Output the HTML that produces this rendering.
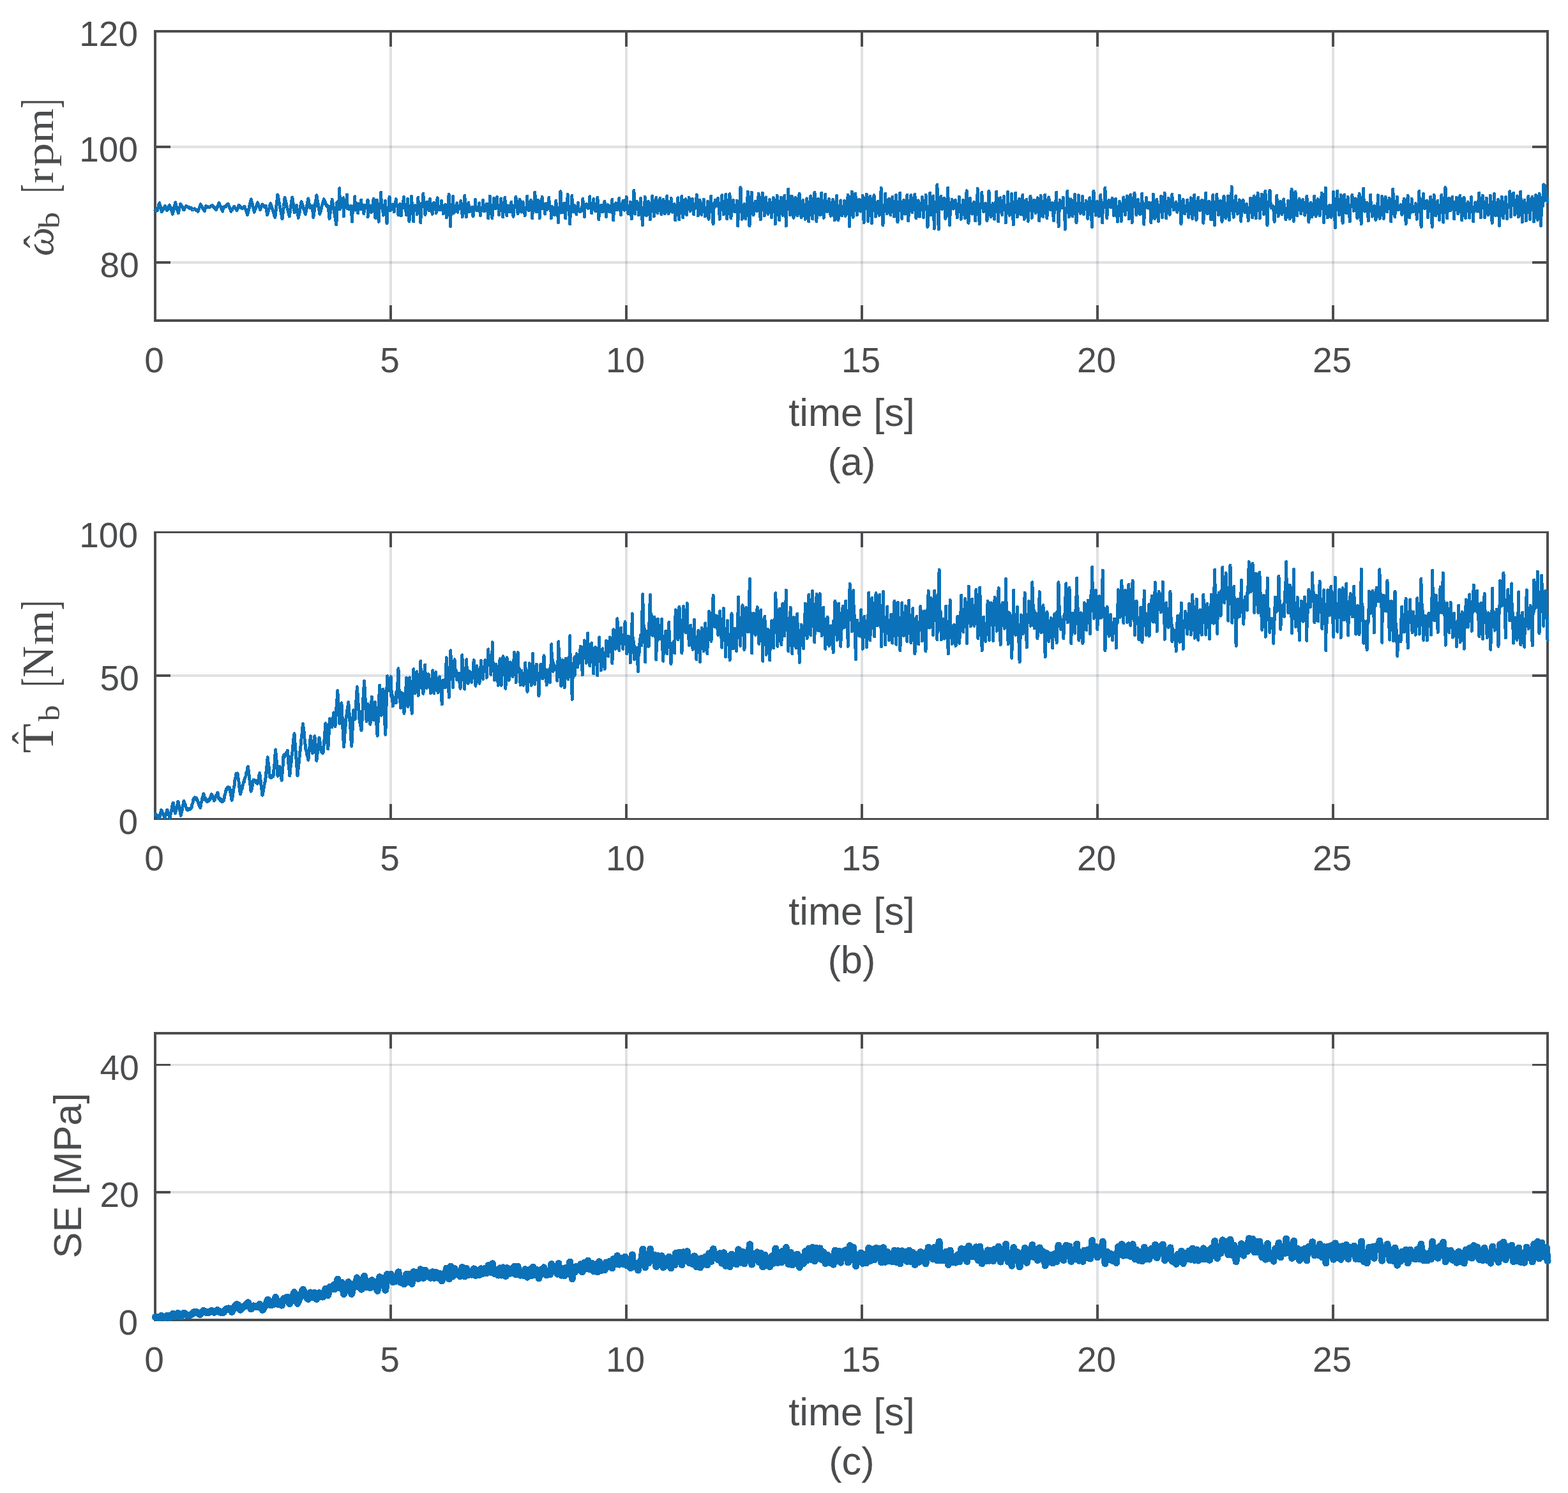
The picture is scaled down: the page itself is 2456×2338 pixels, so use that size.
<!DOCTYPE html>
<html lang="en"><head><meta charset="utf-8"><title>Figure</title>
<style>
html,body{margin:0;padding:0;background:#fff}
body{width:2456px;height:2338px;overflow:hidden}
svg{display:block}
text{font-family:"Liberation Sans",sans-serif;fill:#4b4c4e}
.tk{font-size:55px}
.lb{font-size:61.3px}
.tex text{font-family:"Liberation Serif",serif}
</style></head>
<body>
<svg xmlns="http://www.w3.org/2000/svg" width="2456" height="2338" viewBox="0 0 2456 2338">
<rect width="2456" height="2338" fill="#fff"/>
<g>
<rect x="610" y="49" width="4" height="453" fill="#4b515c" fill-opacity="0.172"/>
<rect x="979" y="49" width="4" height="453" fill="#4b515c" fill-opacity="0.172"/>
<rect x="1348" y="49" width="4" height="453" fill="#4b515c" fill-opacity="0.172"/>
<rect x="1717" y="49" width="4" height="453" fill="#4b515c" fill-opacity="0.172"/>
<rect x="2086" y="49" width="4" height="453" fill="#4b515c" fill-opacity="0.172"/>
<rect x="243" y="228" width="2181" height="4" fill="#4b515c" fill-opacity="0.172"/>
<rect x="243" y="409" width="2181" height="4" fill="#4b515c" fill-opacity="0.172"/>
<text class="tk" x="241.5" y="582.5" text-anchor="middle">0</text>
<rect x="610" y="478" width="4" height="23" fill="#4b4c4e"/>
<rect x="610" y="50" width="4" height="23" fill="#4b4c4e"/>
<text class="tk" x="610.5" y="582.5" text-anchor="middle">5</text>
<rect x="979" y="478" width="4" height="23" fill="#4b4c4e"/>
<rect x="979" y="50" width="4" height="23" fill="#4b4c4e"/>
<text class="tk" x="979.5" y="582.5" text-anchor="middle">10</text>
<rect x="1348" y="478" width="4" height="23" fill="#4b4c4e"/>
<rect x="1348" y="50" width="4" height="23" fill="#4b4c4e"/>
<text class="tk" x="1348.5" y="582.5" text-anchor="middle">15</text>
<rect x="1717" y="478" width="4" height="23" fill="#4b4c4e"/>
<rect x="1717" y="50" width="4" height="23" fill="#4b4c4e"/>
<text class="tk" x="1717.5" y="582.5" text-anchor="middle">20</text>
<rect x="2086" y="478" width="4" height="23" fill="#4b4c4e"/>
<rect x="2086" y="50" width="4" height="23" fill="#4b4c4e"/>
<text class="tk" x="2086.5" y="582.5" text-anchor="middle">25</text>
<text class="tk" x="216.0" y="72.0" text-anchor="end">120</text>
<rect x="244" y="228" width="23" height="4" fill="#4b4c4e"/>
<rect x="2400" y="228" width="23" height="4" fill="#4b4c4e"/>
<text class="tk" x="216.0" y="253.0" text-anchor="end">100</text>
<rect x="244" y="409" width="23" height="4" fill="#4b4c4e"/>
<rect x="2400" y="409" width="23" height="4" fill="#4b4c4e"/>
<text class="tk" x="217.8" y="434.0" text-anchor="end">80</text>
<rect x="241" y="47" width="2185" height="4" fill="#4b4c4e"/>
<rect x="241" y="500" width="2185" height="4" fill="#4b4c4e"/>
<rect x="241" y="47" width="4" height="457" fill="#4b4c4e"/>
<rect x="2422" y="47" width="4" height="457" fill="#4b4c4e"/>
<polyline fill="none" stroke="#0b72b9" stroke-width="5.0" stroke-linejoin="round" stroke-linecap="round" shape-rendering="crispEdges" points="243.0,329.5 243.8,330.0 244.6,329.1 245.4,330.0 246.2,329.7 247.1,326.3 247.9,324.3 248.8,320.3 249.6,317.8 250.4,321.0 251.1,323.1 251.8,326.7 252.6,328.7 253.3,331.7 254.1,330.8 255.0,328.4 255.8,327.7 256.7,325.2 257.5,324.7 258.4,322.5 259.1,324.0 259.9,326.4 260.7,327.4 261.4,329.7 262.2,328.6 263.0,325.9 263.8,325.0 264.7,322.3 265.5,321.1 266.3,323.8 267.2,325.4 268.0,328.6 268.9,330.1 269.7,333.1 270.5,335.2 271.4,330.9 272.2,328.2 273.0,323.6 273.8,321.3 274.6,317.0 275.4,319.4 276.2,323.2 276.9,325.2 277.7,328.7 278.5,330.6 279.3,333.8 280.1,330.5 281.0,326.0 281.9,323.3 282.7,319.5 283.6,320.4 284.4,322.8 285.3,323.5 286.1,326.0 286.9,326.7 287.8,328.7 288.6,328.1 289.4,325.6 290.2,325.2 291.0,323.4 291.9,322.5 292.7,323.6 293.5,323.2 294.3,324.6 295.1,324.4 295.9,325.6 296.7,326.2 297.5,324.9 298.3,325.9 299.2,325.3 300.0,325.6 300.5,327.7 301.0,328.7 301.7,328.0 302.5,328.5 303.3,327.7 304.0,328.0 304.8,326.9 305.6,327.1 306.3,328.4 307.1,328.1 307.8,329.8 308.6,329.3 309.4,330.9 310.1,331.1 310.9,328.5 311.7,327.0 312.6,324.0 313.4,322.7 314.2,319.9 315.0,321.0 315.9,323.3 316.8,324.1 317.7,326.7 318.5,327.1 319.4,329.4 320.3,330.7 320.9,327.6 321.6,325.7 322.3,322.5 323.1,322.7 324.0,324.0 324.8,323.1 325.7,324.4 326.5,324.1 327.4,325.0 328.2,324.8 329.1,323.6 329.9,323.6 330.8,322.5 331.6,322.6 332.4,321.5 333.3,322.1 334.2,324.1 335.1,324.0 335.9,326.1 336.8,326.3 337.7,327.9 338.5,328.7 339.4,326.0 340.3,324.9 341.2,321.6 342.1,320.3 343.0,317.8 343.8,319.5 344.6,322.3 345.4,323.0 346.2,325.7 347.1,326.8 347.9,329.4 348.7,331.1 349.2,327.3 349.7,324.5 350.4,324.9 351.2,323.7 351.9,324.4 352.7,323.3 353.4,323.8 354.2,323.5 354.9,321.2 355.7,321.6 356.5,319.7 357.2,319.1 358.0,321.8 358.8,322.6 359.5,325.6 360.3,326.6 361.1,329.4 361.9,331.1 362.7,329.2 363.6,329.0 364.4,326.8 365.3,326.2 366.1,324.2 366.9,323.1 367.8,324.9 368.6,325.1 369.4,327.5 370.2,328.0 371.0,329.7 371.8,328.2 372.5,325.4 373.3,323.8 374.0,321.5 374.9,321.8 375.7,323.5 376.6,323.6 377.4,325.5 378.3,325.3 379.1,326.6 379.9,326.3 380.7,325.1 381.6,325.2 382.4,323.5 383.2,323.5 384.1,326.6 385.0,328.1 385.9,331.7 386.7,333.5 387.6,336.4 388.5,333.4 389.3,329.2 390.1,326.3 390.9,321.8 391.7,319.2 392.5,314.9 393.3,312.0 394.2,315.9 395.0,318.5 395.9,322.8 396.7,325.2 397.6,329.6 398.4,332.3 399.2,329.4 400.1,327.7 400.9,324.0 401.8,322.8 402.6,319.1 403.5,317.0 404.3,319.7 405.1,321.2 405.9,324.5 406.7,326.1 407.5,328.7 408.3,326.9 409.1,323.6 409.8,322.6 410.6,319.9 411.3,320.6 412.1,322.5 412.9,322.5 413.6,324.1 414.4,324.4 415.1,322.8 415.9,323.1 416.7,322.5 417.3,327.0 418.0,332.4 418.7,336.8 419.5,333.0 420.4,331.1 421.2,327.2 422.1,325.4 422.9,321.2 423.8,318.5 424.7,321.8 425.5,323.1 426.4,327.5 427.3,329.1 428.2,332.7 429.1,334.5 430.0,338.4 430.9,340.4 431.7,332.9 432.5,326.6 433.3,318.7 434.1,312.3 434.9,304.9 435.8,308.9 436.7,314.8 437.6,318.6 438.5,324.3 439.4,328.1 440.3,333.8 441.1,337.6 442.0,342.9 442.8,336.9 443.7,329.1 444.5,323.5 445.3,315.5 446.1,309.3 447.0,313.4 447.9,316.3 448.8,321.3 449.6,323.8 450.5,328.2 451.4,330.5 452.3,335.5 453.2,338.8 454.0,333.4 454.7,329.3 455.5,323.0 456.3,319.3 457.1,312.9 457.9,308.9 458.7,315.3 459.6,320.1 460.4,327.7 461.3,332.7 462.1,329.2 462.8,327.8 463.6,323.7 464.4,321.5 465.1,326.9 465.9,330.3 466.6,336.9 467.4,341.3 468.2,336.2 469.0,333.6 469.7,327.5 470.5,324.8 471.3,319.6 472.1,315.8 472.9,319.3 473.7,319.9 474.5,323.9 475.3,324.7 476.1,328.9 476.9,329.3 477.7,333.7 478.6,335.2 479.4,330.0 480.2,326.5 481.0,320.3 481.8,316.8 482.6,310.9 483.4,314.3 484.2,319.3 485.1,321.1 485.9,325.6 486.7,325.2 487.5,323.1 488.3,324.1 489.1,322.5 489.9,331.0 490.7,340.4 491.6,335.8 492.4,328.0 493.3,323.8 494.1,316.1 495.0,312.0 495.8,305.7 496.7,310.1 497.5,316.7 498.3,319.9 499.2,326.4 500.0,329.7 500.9,335.2 501.7,333.4 502.5,328.6 503.3,327.3 504.1,322.5 504.9,321.3 505.8,316.7 506.6,315.7 507.4,311.8 508.2,313.6 509.1,317.6 509.9,317.5 510.7,321.0 511.6,322.2 512.4,321.7 513.2,323.7 514.1,323.5 514.8,328.7 515.4,337.1 516.1,342.5 516.9,335.7 517.7,331.6 518.5,323.8 519.4,319.5 520.2,312.4 526.9,352.0 527.7,316.7 528.5,326.0 529.8,314.8 530.8,327.5 531.7,294.7 532.6,327.9 533.6,320.3 534.4,324.8 535.3,315.5 536.5,320.4 537.7,309.7 538.4,338.8 538.9,313.4 540.0,322.0 541.1,318.1 541.9,324.2 543.5,304.9 544.3,326.8 545.4,324.3 546.4,327.4 547.5,323.5 548.2,326.1 549.4,322.7 550.2,325.0 551.6,347.3 552.4,324.4 553.5,327.4 554.7,326.1 555.7,307.7 556.6,329.1 557.6,322.1 558.8,324.2 559.7,319.0 560.8,333.8 561.5,318.9 562.4,323.1 563.6,321.1 564.7,327.6 565.8,313.0 566.4,327.1 567.3,323.5 568.3,324.7 569.9,334.8 570.7,321.0 571.9,324.5 573.0,323.2 574.2,325.3 575.0,326.4 576.0,313.4 576.0,339.8 576.7,325.6 577.5,326.4 578.3,323.8 579.2,328.8 580.4,321.9 581.6,332.6 582.8,324.7 583.8,330.9 585.1,311.4 586.0,326.6 586.8,328.5 587.7,341.3 588.4,328.5 589.3,325.6 590.2,313.0 590.8,325.8 591.8,328.5 593.2,347.3 593.7,326.8 594.6,326.1 595.7,325.1 596.7,301.2 597.4,323.1 598.3,323.1 599.2,321.6 600.3,337.2 600.9,326.3 601.8,324.0 602.7,329.1 603.4,314.4 604.1,327.9 604.9,329.3 606.0,350.0 606.8,328.0 607.9,330.1 608.8,326.4 610.1,308.3 610.7,329.8 611.5,324.5 612.4,328.7 613.4,321.4 614.5,325.5 615.4,320.0 616.2,323.0 617.3,331.7 617.8,322.4 619.0,320.7 620.3,311.8 620.9,321.8 621.9,323.0 623.1,323.0 623.9,336.8 624.7,320.9 625.7,323.5 626.5,319.4 627.4,322.7 628.4,337.8 628.9,321.2 630.0,324.4 631.1,322.9 632.5,308.3 633.2,326.1 634.0,324.5 635.1,323.3 636.5,336.8 637.1,327.4 638.6,311.4 639.3,325.7 640.2,329.0 641.0,346.9 641.7,329.5 642.8,324.9 643.8,330.3 644.6,307.3 645.4,324.8 646.2,325.7 647.7,346.9 648.2,323.5 649.3,324.1 650.3,321.8 651.5,323.1 652.6,323.6 653.2,335.8 653.8,324.5 654.8,309.3 655.4,322.9 656.6,322.7 657.4,324.5 658.9,348.6 659.4,318.9 660.3,325.2 661.2,322.9 661.9,323.7 662.9,303.2 663.5,322.3 664.6,321.5 666.0,336.4 666.6,317.7 667.8,323.2 669.0,316.3 670.0,327.7 671.1,319.8 672.2,329.8 673.5,311.4 674.3,326.8 675.5,321.9 676.5,323.3 677.1,335.2 677.9,318.8 679.1,322.3 679.8,317.4 680.7,321.3 681.9,319.0 682.6,320.1 683.2,333.8 683.9,320.5 685.2,309.7 686.1,325.9 686.9,322.5 687.9,328.7 688.7,324.0 689.7,328.8 690.5,325.4 691.7,314.4 692.3,325.8 693.2,323.9 694.4,334.8 695.2,322.2 696.4,323.1 697.5,320.3 698.5,323.5 699.4,340.9 700.0,324.2 700.8,323.6 701.8,327.1 703.1,304.3 703.7,326.9 704.7,328.6 705.5,354.7 706.3,329.1 707.4,331.1 708.4,329.7 709.6,307.3 710.5,334.1 711.6,326.4 712.6,331.6 713.5,326.0 714.3,328.0 715.7,317.8 716.7,332.3 717.4,326.5 718.5,324.7 719.5,326.5 720.5,324.4 721.8,314.4 722.5,324.0 723.4,325.4 724.2,339.8 724.8,325.5 725.9,323.4 726.8,325.5 727.9,306.3 728.4,322.5 729.2,325.9 730.3,339.8 730.8,326.7 731.9,326.5 733.1,327.7 733.9,317.0 734.5,331.6 735.5,327.2 736.6,331.2 737.4,325.7 738.4,328.3 739.4,324.5 740.4,324.7 741.0,338.8 741.9,325.2 742.8,327.0 743.8,325.9 744.5,312.4 745.0,328.7 746.0,328.3 746.8,329.7 748.1,329.0 749.3,328.0 750.6,317.8 751.3,326.5 752.6,337.8 753.3,328.2 754.0,327.0 755.2,328.1 756.0,329.1 756.7,313.4 757.5,330.7 758.6,324.6 759.7,330.5 760.5,321.6 761.4,328.6 762.4,319.1 763.7,325.7 764.8,341.9 765.6,322.5 766.7,325.0 767.4,307.3 768.0,324.7 769.0,325.8 769.9,324.5 770.9,341.9 771.6,325.7 772.7,324.3 773.5,310.3 774.0,325.3 775.2,326.1 776.2,326.7 777.2,325.2 778.6,308.3 779.2,324.1 780.2,323.7 781.1,321.6 781.6,336.4 782.2,324.0 783.3,321.8 784.1,324.3 784.7,310.9 785.5,322.5 786.4,325.1 787.7,339.8 788.5,325.8 789.7,322.9 790.8,309.3 791.6,322.8 792.8,323.8 793.8,337.8 794.5,322.0 795.7,327.4 796.7,322.4 797.8,331.4 798.7,325.1 800.0,331.6 800.9,316.4 801.5,329.1 802.7,327.3 804.0,339.2 804.6,326.1 805.6,323.2 806.6,324.9 808.0,308.3 808.6,321.9 809.6,322.8 811.1,334.8 811.8,324.1 812.6,324.6 814.1,312.4 814.7,328.7 815.8,326.3 816.8,332.0 817.8,327.7 819.2,316.4 819.9,326.4 821.1,327.5 822.2,337.8 822.8,326.9 824.1,324.9 824.9,326.3 825.7,307.3 826.3,327.4 827.2,320.5 828.3,330.0 829.5,316.5 830.7,326.2 831.6,313.5 832.7,322.7 833.8,341.9 834.6,316.4 835.6,319.7 836.8,317.9 837.8,301.2 838.7,317.5 839.9,331.7 840.5,315.0 841.6,317.3 842.6,313.4 843.7,321.1 844.6,314.8 845.2,341.9 846.0,317.7 846.8,324.8 848.0,321.3 849.2,308.3 850.0,326.7 851.1,323.7 852.1,323.2 852.9,321.0 853.7,335.2 854.3,318.8 855.2,324.7 856.3,321.2 857.1,328.4 858.1,323.8 859.8,309.3 860.6,327.2 861.8,324.8 862.7,324.1 863.4,341.9 864.0,323.4 865.1,327.4 865.9,324.9 866.8,331.9 867.6,327.7 868.6,336.6 869.8,331.4 870.9,314.4 871.7,333.4 872.6,329.1 873.5,329.3 874.4,348.6 875.0,326.3 876.1,326.9 877.0,323.8 878.0,299.6 878.6,333.2 879.5,324.2 880.7,332.9 882.0,319.8 883.1,326.4 884.0,318.0 885.2,321.1 885.7,341.9 886.3,321.4 887.3,324.3 888.4,324.1 889.2,304.3 889.7,325.9 890.6,329.1 891.5,327.1 892.6,351.0 893.5,328.6 894.6,328.6 895.9,306.3 896.5,331.9 897.7,325.5 898.8,331.2 899.9,321.5 900.8,326.5 902.0,323.3 902.8,335.8 903.6,325.9 904.6,327.3 905.4,317.4 906.2,329.0 907.4,327.3 908.3,331.6 909.4,327.2 910.5,330.8 911.5,327.5 912.9,311.4 913.5,327.2 914.6,323.7 915.6,339.8 916.2,321.5 917.1,323.2 918.3,319.5 919.4,324.8 920.5,320.9 921.2,326.2 922.1,322.0 923.1,324.5 923.7,307.7 924.3,323.4 925.4,322.7 926.7,333.8 927.3,323.3 928.3,323.6 929.8,311.4 930.4,327.5 931.4,324.1 932.6,330.3 933.8,324.8 934.8,329.3 935.9,309.3 936.6,328.0 937.9,343.9 938.5,324.7 939.2,327.3 940.2,322.2 941.2,329.5 942.2,321.1 943.4,332.0 944.3,324.5 945.1,331.4 946.2,327.5 947.0,315.4 947.8,328.9 948.7,326.1 949.5,339.8 950.3,323.4 951.2,328.5 952.3,320.7 953.2,330.4 954.4,322.3 955.4,331.9 956.4,325.7 957.2,329.8 958.0,328.9 958.8,312.4 959.4,327.6 960.8,344.9 961.4,323.7 962.5,328.1 963.3,320.2 964.2,328.5 964.9,317.9 965.9,328.8 967.0,321.3 968.1,327.9 969.2,323.9 969.8,310.3 970.3,325.5 971.5,326.1 972.4,336.4 973.0,325.9 974.0,324.5 975.1,325.4 975.8,314.4 976.7,327.6 977.4,325.1 978.3,329.4 979.1,323.9 980.0,327.6 981.2,308.3 982.0,325.4 983.0,323.8 983.8,334.8 984.3,325.0 985.5,322.5 986.6,327.0 987.3,316.4 988.0,323.7 989.3,342.9 989.9,325.7 991.1,322.1 992.2,321.7 992.9,298.2 993.6,317.2 994.8,335.2 995.6,316.3 996.4,317.9 997.4,315.6 998.6,319.1 999.6,318.6 1000.4,336.8 1000.9,321.8 1001.9,324.0 1002.8,326.3 1003.5,310.3 1004.2,326.8 1005.0,329.6 1006.5,352.6 1007.4,328.2 1008.5,327.6 1009.7,326.4 1010.2,308.3 1011.0,325.6 1011.8,328.2 1012.6,337.8 1013.3,328.9 1014.5,325.8 1015.7,315.4 1016.5,326.5 1017.6,329.4 1018.3,343.9 1019.2,328.3 1020.2,326.0 1021.8,306.9 1022.5,324.8 1023.5,325.3 1024.4,338.8 1025.0,325.0 1026.2,321.1 1027.0,324.3 1027.8,309.3 1028.7,321.2 1029.9,333.8 1030.4,323.5 1031.5,321.0 1032.6,323.3 1033.9,310.3 1034.7,321.4 1036.0,335.8 1036.6,323.6 1037.8,322.4 1039.0,312.4 1039.5,321.4 1040.6,323.8 1041.4,334.8 1042.3,322.8 1043.3,320.5 1044.7,306.9 1045.3,319.9 1046.3,323.0 1047.1,334.8 1047.7,322.4 1048.8,320.9 1049.6,321.9 1050.6,321.4 1051.2,310.3 1051.8,321.7 1052.8,332.3 1053.3,326.6 1054.4,324.8 1055.2,329.8 1056.3,319.5 1056.9,328.4 1057.7,344.9 1058.5,330.3 1059.7,329.2 1060.5,327.9 1061.7,309.7 1062.5,326.6 1063.8,343.9 1064.3,326.4 1065.1,322.7 1066.0,326.3 1066.8,322.3 1067.8,307.3 1068.7,322.1 1069.8,340.9 1070.6,326.8 1071.7,323.3 1072.6,326.8 1073.9,311.8 1074.6,323.6 1075.5,336.8 1076.4,324.3 1077.3,321.6 1078.3,322.6 1079.2,309.3 1079.8,321.0 1081.2,330.7 1081.8,322.4 1082.8,321.1 1083.9,323.4 1084.7,311.4 1085.3,322.6 1086.7,335.8 1087.3,322.8 1088.3,320.4 1089.2,323.4 1090.4,320.8 1091.2,304.9 1092.0,321.1 1092.8,322.6 1093.4,337.8 1094.3,323.8 1095.3,323.4 1096.2,313.4 1097.0,323.2 1098.1,324.7 1098.9,336.4 1099.4,324.8 1100.2,324.9 1101.4,324.8 1102.3,312.4 1102.9,325.3 1103.8,327.4 1104.3,338.8 1105.1,327.8 1105.9,326.9 1106.8,328.1 1107.8,327.2 1108.4,315.4 1109.1,327.4 1110.0,343.3 1110.9,328.3 1111.7,327.8 1112.7,327.9 1113.7,307.3 1114.4,328.6 1115.7,328.6 1117.1,351.0 1117.9,326.7 1119.1,324.7 1120.2,313.4 1121.1,319.6 1122.2,322.6 1122.8,321.9 1123.9,319.3 1124.6,310.3 1125.4,321.0 1126.4,323.9 1127.3,343.3 1128.1,323.6 1128.9,321.9 1130.1,323.0 1130.7,305.7 1131.3,320.1 1132.4,322.2 1133.4,335.8 1134.0,322.8 1134.9,319.9 1136.0,323.1 1136.8,304.3 1137.4,322.0 1138.2,322.4 1138.8,342.9 1139.5,323.1 1140.7,322.5 1141.4,324.2 1142.3,322.4 1142.9,303.6 1143.7,322.4 1144.9,341.9 1145.7,324.8 1146.6,322.3 1147.5,325.8 1148.6,313.4 1149.3,322.2 1150.6,331.7 1151.4,328.7 1152.4,326.3 1153.2,331.2 1154.3,314.4 1154.9,330.5 1155.7,354.0 1156.6,329.0 1157.4,328.8 1158.5,324.4 1160.0,293.5 1160.9,323.8 1161.7,326.2 1162.4,343.3 1163.0,328.5 1164.2,324.8 1165.2,332.0 1165.8,319.5 1166.7,327.6 1167.9,342.9 1168.5,327.9 1169.6,325.8 1170.4,325.5 1171.3,300.2 1171.9,326.8 1172.8,324.8 1174.0,354.0 1174.6,325.1 1175.7,323.8 1177.4,301.2 1178.1,322.3 1178.8,323.4 1180.0,336.8 1180.9,324.4 1182.1,321.3 1183.1,315.4 1183.7,321.1 1184.7,324.1 1185.5,330.7 1186.4,322.2 1187.3,320.0 1188.2,303.2 1188.9,321.6 1189.9,323.2 1191.2,343.9 1192.1,323.7 1193.0,321.9 1194.3,302.2 1194.8,320.4 1195.6,322.9 1196.5,319.4 1197.3,337.8 1198.0,322.4 1199.1,321.5 1199.7,308.9 1200.3,322.2 1201.3,323.0 1202.3,323.3 1203.0,335.2 1203.9,324.7 1204.8,322.3 1205.4,312.4 1206.0,323.3 1206.9,327.4 1208.0,324.9 1208.5,340.9 1209.4,328.6 1210.1,326.4 1211.5,309.7 1212.2,326.5 1213.0,330.0 1214.0,326.3 1214.5,351.0 1215.4,330.9 1216.4,326.7 1217.2,306.3 1217.8,326.5 1218.7,328.0 1219.7,326.5 1220.6,344.9 1221.4,327.2 1222.3,323.7 1223.3,309.3 1224.0,322.9 1224.8,326.1 1226.1,337.2 1226.9,325.6 1227.9,324.7 1228.8,306.3 1229.4,326.0 1230.6,325.9 1231.4,354.0 1232.0,325.3 1233.2,324.6 1234.1,324.4 1234.8,296.1 1235.4,321.0 1236.5,322.3 1237.5,336.8 1238.2,322.8 1239.2,321.2 1240.3,307.3 1240.9,322.9 1241.9,325.9 1243.0,341.3 1243.7,325.8 1244.7,324.1 1246.0,308.9 1246.6,323.2 1247.5,324.7 1248.4,322.4 1249.0,337.8 1249.6,324.2 1250.6,320.5 1252.1,303.2 1252.8,322.7 1254.0,324.5 1255.1,340.9 1255.8,326.4 1256.9,324.7 1257.8,313.4 1258.3,324.8 1259.1,329.9 1260.2,325.5 1261.2,343.3 1261.9,330.1 1262.7,326.8 1263.9,310.9 1264.4,326.8 1265.2,328.4 1266.2,326.9 1266.7,346.9 1267.5,326.8 1268.5,326.7 1269.9,306.9 1270.8,324.9 1271.8,327.6 1272.8,342.9 1273.3,326.6 1274.5,322.3 1275.3,325.0 1276.0,301.2 1276.6,324.2 1277.7,326.4 1278.9,346.9 1279.5,327.1 1280.4,325.2 1281.5,311.4 1282.0,323.7 1282.9,325.2 1283.7,321.9 1284.6,336.8 1285.5,322.2 1286.6,302.2 1287.3,319.4 1288.1,321.3 1289.0,319.4 1290.2,341.3 1291.0,321.5 1292.0,320.7 1292.7,304.3 1293.3,320.3 1294.5,323.0 1295.7,331.7 1296.4,322.9 1297.4,321.5 1298.4,311.4 1299.2,322.5 1300.0,326.2 1301.2,338.4 1302.0,327.2 1302.8,325.5 1304.4,312.4 1305.3,326.1 1306.3,328.8 1307.3,344.9 1308.0,328.2 1309.1,327.3 1310.5,306.3 1311.3,327.3 1312.2,327.3 1313.0,344.9 1313.6,327.9 1314.5,324.4 1315.5,328.9 1316.6,313.8 1317.2,324.2 1318.7,337.8 1319.2,327.8 1320.1,325.6 1321.0,327.3 1321.8,325.2 1322.7,314.4 1323.3,324.8 1324.1,338.4 1324.8,327.1 1325.8,324.0 1326.6,328.2 1328.2,305.3 1328.8,326.6 1329.7,326.8 1330.6,354.7 1331.3,326.9 1332.1,327.7 1333.0,326.9 1334.3,300.2 1335.0,323.2 1336.3,340.4 1336.9,321.4 1338.0,319.0 1338.8,321.1 1339.8,303.2 1340.6,319.4 1341.3,322.1 1342.4,336.8 1343.1,322.5 1344.1,321.1 1345.4,312.4 1346.1,319.9 1347.2,323.4 1347.9,331.1 1348.4,323.2 1349.6,321.3 1350.5,323.6 1351.2,306.3 1352.0,322.6 1353.2,348.6 1353.8,325.7 1354.7,326.8 1355.7,326.0 1357.3,304.3 1357.8,324.7 1359.0,327.9 1359.7,346.5 1360.6,328.6 1361.5,324.5 1362.9,307.3 1363.8,324.5 1364.5,327.5 1365.4,349.4 1366.2,327.5 1367.1,326.7 1368.0,327.4 1369.0,305.7 1369.5,325.0 1370.7,327.3 1371.5,339.2 1372.0,327.3 1372.9,323.8 1374.1,327.5 1374.9,315.4 1375.7,321.2 1377.1,337.2 1377.7,323.3 1378.5,322.0 1379.3,321.0 1380.2,294.1 1380.9,323.6 1381.8,322.7 1383.0,352.6 1383.6,323.4 1384.7,320.9 1385.9,323.8 1386.7,303.2 1387.4,320.0 1388.5,322.2 1389.1,334.8 1389.9,322.5 1391.0,320.6 1392.4,311.4 1393.1,322.0 1394.2,325.1 1394.8,336.8 1395.7,324.2 1396.6,322.4 1397.8,308.3 1398.4,321.5 1399.5,324.6 1400.5,339.2 1401.1,325.0 1402.0,323.0 1402.8,325.5 1403.5,305.3 1404.1,323.7 1405.1,324.9 1406.0,348.0 1406.6,324.5 1407.5,324.9 1408.5,324.0 1409.6,302.2 1410.4,324.5 1411.6,325.7 1412.7,342.5 1413.4,326.6 1414.2,322.4 1415.5,313.4 1416.1,322.0 1417.5,335.2 1418.1,326.0 1419.1,321.5 1420.2,325.3 1420.8,305.3 1421.3,322.0 1422.8,345.9 1423.4,325.2 1424.4,322.2 1425.2,324.6 1426.1,320.9 1426.9,305.7 1427.7,319.8 1428.9,332.7 1429.6,322.4 1430.4,320.0 1431.4,321.5 1432.2,321.4 1432.9,304.3 1433.7,322.6 1435.0,341.9 1435.6,325.2 1436.5,322.9 1437.3,328.0 1438.4,313.8 1439.0,323.6 1439.9,327.7 1440.5,339.2 1441.3,327.1 1442.1,324.3 1443.3,326.3 1444.5,308.3 1445.0,322.1 1446.0,327.3 1446.5,340.9 1447.1,327.2 1447.9,324.2 1448.7,327.3 1449.7,324.9 1450.2,305.3 1451.1,325.3 1452.3,326.4 1453.0,355.5 1453.9,326.1 1454.9,323.4 1456.1,325.3 1456.7,302.2 1457.3,320.2 1458.1,336.8 1458.8,326.2 1460.0,322.7 1460.9,328.4 1461.8,306.9 1462.4,326.5 1463.4,358.1 1464.2,327.7 1465.4,326.6 1466.3,326.1 1467.3,325.5 1467.9,289.0 1468.7,325.0 1470.3,359.1 1470.9,328.1 1471.7,321.0 1472.7,326.5 1473.4,320.4 1473.9,307.3 1474.6,319.8 1475.6,327.7 1476.3,322.9 1477.1,318.7 1478.0,322.5 1479.0,310.3 1479.7,320.3 1481.0,342.5 1481.8,324.3 1482.8,321.7 1484.0,324.9 1484.7,294.1 1485.3,323.2 1486.1,323.1 1487.7,352.6 1488.3,325.0 1489.2,323.1 1490.2,326.6 1491.2,312.4 1492.0,320.3 1493.2,327.1 1493.8,324.7 1494.6,320.4 1495.6,325.1 1496.7,313.4 1497.5,323.5 1498.3,325.6 1499.3,340.9 1500.2,326.2 1501.0,325.7 1501.8,326.5 1502.4,308.3 1503.0,326.1 1503.9,326.0 1504.7,326.6 1505.4,343.3 1506.3,328.3 1507.5,326.2 1508.4,313.4 1509.0,325.2 1509.8,326.9 1511.5,341.9 1512.4,324.9 1513.2,323.1 1514.1,298.8 1514.8,323.2 1515.6,324.5 1517.0,349.4 1517.5,326.7 1518.4,324.6 1519.6,310.3 1520.4,324.2 1521.4,327.7 1522.6,335.2 1523.5,328.6 1524.4,325.2 1525.7,316.4 1526.2,325.4 1527.0,327.7 1527.7,345.9 1528.5,326.9 1529.5,323.3 1530.6,325.5 1531.2,295.1 1531.7,323.2 1532.7,324.8 1534.2,350.6 1534.9,323.6 1535.7,320.0 1536.7,322.6 1537.9,301.2 1538.4,318.9 1539.4,322.8 1540.5,331.7 1541.4,325.4 1542.4,322.4 1543.6,318.5 1544.1,324.3 1544.8,327.6 1546.0,345.9 1546.5,325.0 1547.7,324.4 1549.0,299.2 1549.9,323.2 1550.9,325.0 1552.1,339.8 1552.7,327.6 1553.8,323.8 1555.1,318.5 1556.0,325.1 1556.9,328.4 1557.6,343.3 1558.3,326.9 1559.4,326.0 1560.8,300.2 1561.5,324.7 1562.6,323.8 1563.6,346.9 1564.3,325.1 1565.1,324.5 1566.0,326.2 1566.9,309.7 1567.5,322.3 1568.5,325.2 1569.7,336.4 1570.3,326.3 1571.1,322.6 1572.4,307.3 1573.0,322.8 1574.0,323.9 1574.9,322.8 1575.4,349.0 1576.3,323.6 1577.1,321.6 1577.9,323.0 1578.5,300.2 1579.1,320.3 1580.0,321.8 1581.1,337.2 1581.6,323.4 1582.6,319.4 1583.8,326.6 1584.5,303.6 1585.3,321.9 1586.5,326.0 1587.2,352.0 1587.8,325.7 1588.7,323.7 1589.5,325.0 1590.6,302.2 1591.4,322.8 1592.4,324.3 1593.3,339.8 1594.2,324.0 1595.0,320.4 1596.0,323.9 1596.7,311.4 1597.3,320.5 1598.8,335.8 1599.6,325.0 1600.6,323.2 1601.8,305.3 1602.4,324.0 1603.5,325.9 1604.2,343.3 1604.9,327.4 1605.8,325.1 1607.1,329.5 1607.9,312.4 1608.5,326.1 1609.3,329.6 1610.3,346.5 1611.2,328.6 1612.2,326.9 1613.3,327.5 1614.0,307.3 1614.7,324.5 1615.9,325.8 1616.4,341.3 1617.2,326.3 1618.5,323.0 1619.7,313.4 1620.5,322.9 1622.1,333.8 1622.9,325.5 1624.2,324.3 1625.1,309.7 1625.9,325.5 1627.0,326.4 1627.8,345.9 1628.6,326.9 1630.2,306.3 1631.0,323.5 1631.8,324.4 1632.8,322.2 1633.9,339.2 1634.5,325.3 1635.4,320.9 1636.7,305.3 1637.5,321.3 1638.5,323.6 1639.9,341.9 1640.6,324.1 1641.8,321.0 1642.8,308.9 1643.7,320.3 1644.8,323.3 1645.4,328.7 1646.0,324.8 1647.2,323.4 1648.5,317.8 1649.0,326.0 1650.5,345.9 1651.3,328.5 1652.2,326.7 1653.4,326.7 1654.6,301.2 1655.2,327.1 1656.1,328.6 1657.2,327.6 1658.2,354.7 1659.1,329.2 1660.2,313.4 1661.0,323.5 1662.1,325.5 1663.1,322.6 1663.6,324.6 1664.7,321.3 1665.3,309.3 1665.8,323.8 1666.7,327.2 1667.5,327.6 1668.4,359.1 1668.9,328.0 1669.9,326.2 1671.1,327.8 1671.8,299.2 1672.4,324.0 1673.4,326.9 1674.4,339.8 1675.2,326.5 1676.0,323.5 1676.8,326.1 1677.3,311.8 1677.9,323.8 1678.9,325.6 1679.9,338.8 1680.6,325.1 1681.5,321.8 1682.4,324.3 1683.4,304.3 1684.0,323.4 1684.9,324.0 1686.0,349.0 1686.9,323.8 1687.8,323.0 1688.7,323.4 1689.5,305.7 1690.3,321.4 1691.5,322.6 1692.1,334.4 1692.6,322.4 1693.8,320.7 1694.8,321.5 1695.6,307.3 1696.2,320.9 1697.0,323.1 1697.6,335.8 1698.3,324.3 1699.4,324.6 1700.4,326.4 1701.2,314.4 1702.1,326.2 1703.1,329.6 1703.7,342.5 1704.6,330.7 1705.5,326.3 1706.2,331.7 1706.9,309.7 1707.5,325.9 1708.4,328.9 1709.2,326.3 1710.4,355.5 1710.9,326.6 1712.1,324.8 1713.0,299.2 1713.9,323.4 1715.1,325.7 1716.5,337.2 1717.1,327.1 1718.5,315.4 1719.4,324.3 1720.5,326.4 1721.2,338.8 1721.7,325.5 1722.8,323.4 1723.8,305.3 1724.5,324.6 1725.2,326.5 1726.6,349.0 1727.3,325.6 1728.5,323.4 1729.6,324.5 1730.9,294.1 1731.7,322.6 1732.8,321.1 1733.9,341.9 1734.5,322.9 1735.7,321.5 1736.8,313.4 1737.5,320.3 1738.4,322.8 1739.4,324.6 1740.1,321.4 1741.2,319.2 1742.1,310.3 1742.7,321.3 1743.9,324.1 1744.5,337.8 1745.1,325.8 1745.9,325.2 1747.0,328.3 1747.5,311.4 1748.2,326.3 1749.2,331.2 1750.6,347.3 1751.4,332.4 1752.3,328.7 1753.6,315.4 1754.5,329.9 1755.7,331.7 1756.3,346.5 1757.1,330.3 1758.3,325.4 1759.7,308.9 1760.4,323.6 1761.2,325.3 1762.4,336.4 1763.2,325.5 1764.4,322.9 1765.2,306.9 1766.0,323.7 1766.9,326.2 1767.8,324.4 1768.4,342.9 1769.3,326.0 1770.9,304.9 1771.5,323.7 1772.4,326.1 1773.3,348.6 1774.0,325.1 1775.1,322.8 1775.9,323.9 1777.0,302.2 1777.7,321.5 1778.9,323.0 1780.0,336.8 1780.6,324.3 1781.8,321.4 1782.7,312.4 1783.3,321.8 1784.2,324.9 1785.5,335.8 1786.4,323.9 1787.3,323.2 1788.2,323.5 1788.7,303.2 1789.3,324.4 1790.4,324.6 1791.8,351.4 1792.5,324.4 1793.3,325.3 1794.5,323.9 1795.6,309.3 1796.2,320.5 1797.3,325.6 1798.0,323.9 1798.9,322.3 1799.7,326.3 1800.3,317.4 1801.1,327.4 1802.0,328.7 1802.9,349.0 1803.6,327.8 1804.4,325.5 1805.6,326.2 1806.4,304.3 1807.0,323.9 1807.8,325.2 1809.0,342.5 1809.9,327.7 1810.7,324.8 1811.9,312.4 1812.7,325.9 1813.5,328.6 1814.5,346.5 1815.2,328.0 1816.5,327.2 1817.6,327.1 1818.6,307.3 1819.1,324.9 1820.6,340.4 1821.4,326.1 1822.6,320.7 1823.5,325.2 1824.1,302.2 1824.9,320.9 1825.9,323.6 1826.7,341.9 1827.6,325.1 1828.4,323.3 1829.5,326.9 1830.1,310.3 1830.8,321.9 1831.6,324.3 1832.2,336.4 1832.9,323.1 1833.9,320.0 1835.0,321.2 1835.8,304.3 1836.6,318.3 1837.4,320.3 1838.3,328.7 1838.9,321.7 1840.1,320.3 1841.2,323.8 1841.9,316.4 1842.7,321.0 1843.9,332.3 1844.6,323.6 1845.7,322.6 1846.8,323.7 1847.4,306.3 1847.9,325.2 1848.9,325.5 1850.0,350.6 1850.6,326.9 1851.5,326.2 1853.1,312.4 1853.8,324.6 1854.9,326.1 1855.7,334.8 1856.3,326.1 1857.2,323.5 1858.3,326.2 1859.8,313.0 1860.3,325.8 1861.8,340.4 1862.6,326.6 1863.4,325.4 1864.5,326.0 1865.3,309.7 1866.1,323.8 1867.1,327.0 1867.9,342.5 1868.4,325.6 1869.4,324.0 1870.7,305.3 1871.5,324.3 1872.6,323.7 1874.0,344.5 1874.8,323.2 1875.6,323.3 1876.8,309.3 1877.5,321.7 1878.3,324.5 1879.5,329.7 1880.3,325.4 1881.1,322.5 1882.5,313.4 1883.1,325.8 1884.0,326.8 1884.9,349.4 1885.6,324.8 1886.4,324.8 1887.4,322.7 1888.6,302.2 1889.3,321.5 1890.2,324.5 1891.0,334.8 1891.9,326.1 1892.7,321.9 1893.7,327.9 1894.3,315.4 1895.1,325.0 1896.7,343.9 1897.2,329.4 1898.2,325.7 1899.2,330.7 1899.8,305.3 1900.3,326.8 1901.1,328.4 1902.4,352.6 1903.0,326.4 1904.0,325.6 1905.2,323.9 1905.8,304.3 1906.6,322.4 1907.5,324.8 1908.5,336.8 1909.0,326.7 1909.8,322.9 1911.3,314.4 1911.9,325.1 1912.8,329.5 1914.0,347.3 1914.6,328.0 1915.8,325.2 1917.0,306.9 1917.9,325.0 1918.6,327.6 1919.5,324.8 1920.0,341.9 1920.6,326.5 1921.7,323.3 1922.5,325.6 1923.5,306.9 1924.1,323.6 1925.5,344.5 1926.4,322.6 1927.5,320.2 1928.6,319.9 1929.2,292.1 1930.0,318.0 1931.1,320.3 1932.2,340.4 1933.1,321.8 1934.0,320.2 1935.7,306.9 1936.2,321.6 1937.1,324.8 1938.3,335.2 1939.1,325.8 1940.2,323.9 1941.4,313.0 1942.0,326.7 1943.2,329.1 1943.8,346.5 1944.4,328.2 1945.3,327.8 1946.4,326.6 1947.0,313.4 1947.9,325.0 1949.1,328.1 1949.9,332.7 1950.6,328.0 1951.4,325.3 1952.5,319.1 1953.1,327.1 1954.4,330.2 1955.2,345.9 1955.8,330.2 1956.9,327.9 1957.7,330.0 1958.6,310.3 1959.2,325.9 1960.2,325.9 1961.6,340.9 1962.4,325.3 1963.3,321.4 1964.1,306.9 1964.7,321.3 1965.9,325.3 1967.3,341.9 1968.1,324.4 1968.9,322.5 1970.2,302.2 1971.0,321.7 1971.8,324.9 1972.6,321.0 1973.4,341.9 1974.3,324.0 1975.4,321.1 1976.3,304.3 1976.8,320.2 1977.5,322.4 1978.6,318.8 1979.5,335.8 1980.2,322.1 1981.1,320.5 1981.9,299.2 1982.6,321.4 1983.7,321.8 1985.0,352.6 1985.8,319.5 1987.0,321.2 1987.8,317.6 1989.0,298.2 1989.9,315.9 1991.1,325.6 1991.7,322.8 1992.7,322.1 1994.1,322.5 1994.9,328.9 1996.1,347.3 1996.8,328.3 1998.0,327.9 1999.0,325.5 1999.8,306.3 2000.6,323.9 2001.7,327.0 2002.2,338.8 2003.0,327.1 2003.8,324.7 2005.3,315.4 2006.0,323.8 2007.2,326.0 2007.9,335.8 2008.8,325.9 2009.7,325.2 2010.8,311.8 2011.3,325.7 2012.5,327.6 2013.3,326.3 2014.0,343.9 2014.6,329.3 2015.6,327.2 2016.7,330.9 2017.5,314.4 2018.2,325.7 2019.1,328.0 2020.1,342.9 2020.7,325.3 2021.9,323.5 2023.1,296.1 2024.0,323.3 2025.3,321.1 2026.2,346.5 2027.0,322.3 2028.1,319.1 2029.0,300.2 2029.7,319.6 2030.9,324.2 2031.7,337.8 2032.3,324.5 2033.6,320.5 2035.1,311.4 2035.9,321.4 2037.0,325.7 2037.8,334.8 2038.4,325.8 2039.6,321.7 2040.8,312.4 2041.5,322.0 2042.3,325.9 2043.1,322.4 2043.8,337.2 2044.7,326.4 2045.5,324.4 2046.9,307.3 2047.7,326.1 2048.9,327.2 2049.9,348.0 2050.6,328.7 2051.5,329.2 2052.5,330.2 2053.0,317.0 2053.8,328.1 2055.0,339.8 2055.6,327.9 2056.6,325.5 2057.5,326.6 2058.7,307.3 2059.2,323.2 2060.1,323.2 2061.1,338.8 2062.0,324.0 2062.8,322.8 2064.1,311.8 2064.7,321.8 2065.5,325.4 2067.2,337.8 2067.8,324.3 2068.6,321.6 2069.4,323.8 2070.2,302.2 2071.0,320.8 2071.8,324.1 2072.7,320.4 2073.7,348.6 2074.2,322.5 2075.4,318.9 2076.3,294.1 2076.8,319.9 2078.1,326.3 2079.4,340.9 2080.1,328.8 2081.3,324.9 2082.4,321.5 2083.0,326.2 2084.0,330.9 2085.0,340.4 2085.9,328.9 2087.0,325.0 2087.8,326.6 2088.5,300.2 2089.3,326.1 2090.2,326.8 2091.5,356.7 2092.1,325.2 2093.1,323.7 2094.6,299.2 2095.2,320.6 2096.2,322.7 2097.6,336.8 2098.4,325.2 2099.6,320.4 2100.2,305.3 2100.8,322.1 2101.6,324.1 2103.1,349.4 2103.7,323.8 2105.0,322.9 2105.7,304.9 2106.2,321.9 2107.0,324.4 2107.8,321.0 2108.8,333.8 2109.4,323.5 2110.4,320.5 2111.2,308.3 2111.8,321.6 2113.0,325.5 2114.4,346.9 2115.0,324.0 2115.9,321.8 2116.8,322.4 2117.9,305.3 2118.7,319.0 2119.7,323.1 2120.5,330.3 2121.3,323.9 2122.4,320.0 2123.4,310.9 2124.1,321.8 2125.3,325.4 2126.0,341.9 2126.7,325.8 2127.8,325.4 2129.1,303.2 2129.6,325.5 2130.7,326.6 2131.5,325.7 2132.1,351.0 2132.7,324.4 2133.5,322.4 2134.3,322.6 2135.6,295.1 2136.2,318.1 2137.6,331.1 2138.3,323.2 2139.2,319.2 2140.0,327.5 2141.2,317.4 2142.0,325.6 2143.3,345.9 2144.1,328.0 2145.2,326.2 2146.1,325.8 2146.7,305.3 2147.4,326.3 2148.6,327.0 2149.4,339.2 2150.0,328.8 2150.8,327.3 2151.7,331.3 2152.4,322.5 2153.3,327.7 2154.1,330.7 2155.0,344.5 2155.7,328.8 2156.7,326.9 2157.6,326.5 2158.5,305.7 2159.1,324.0 2160.0,327.6 2161.1,342.5 2161.8,328.0 2162.8,324.0 2163.9,328.2 2164.6,307.3 2165.2,322.8 2166.1,323.9 2167.2,342.5 2167.9,323.3 2168.8,321.7 2170.1,308.3 2170.9,321.0 2172.1,322.9 2172.7,331.7 2173.2,323.5 2174.4,322.4 2175.3,324.8 2176.1,310.3 2176.9,324.8 2177.9,325.9 2178.8,346.9 2179.3,324.1 2180.3,321.2 2181.2,321.6 2181.8,296.1 2182.6,319.6 2183.5,319.8 2184.9,339.8 2185.5,321.2 2186.4,318.5 2187.4,322.5 2188.3,308.3 2188.8,319.0 2189.6,323.2 2190.3,328.7 2191.0,324.2 2192.2,322.2 2193.1,326.1 2194.0,320.5 2194.6,325.6 2196.0,336.4 2196.6,327.0 2197.4,326.8 2198.2,326.9 2199.1,311.4 2199.7,328.3 2200.7,329.0 2201.5,329.4 2202.1,350.6 2202.6,327.8 2203.9,328.0 2205.2,306.3 2205.9,324.9 2207.0,325.8 2207.8,340.9 2208.5,325.5 2209.5,323.5 2210.7,325.1 2211.3,311.4 2211.9,322.1 2212.7,324.0 2213.3,331.7 2214.0,326.0 2215.1,323.9 2216.2,329.2 2217.3,318.5 2218.0,324.8 2219.4,343.3 2219.9,329.6 2221.1,327.3 2222.1,328.5 2222.8,299.2 2223.5,326.7 2224.7,328.0 2226.1,355.5 2226.9,326.2 2228.1,323.8 2229.5,303.2 2230.4,319.5 2231.5,326.6 2232.2,322.5 2233.0,318.5 2233.9,324.1 2235.0,314.4 2235.8,323.9 2236.6,340.4 2237.1,328.7 2238.1,326.8 2238.9,330.6 2240.2,326.8 2240.7,308.3 2241.4,326.9 2242.6,329.5 2243.1,355.5 2243.7,329.5 2244.5,327.7 2245.4,329.4 2246.2,305.3 2246.8,323.9 2248.0,327.4 2248.8,337.8 2249.3,327.8 2250.4,324.7 2251.2,328.8 2251.8,314.4 2252.4,326.0 2253.5,327.9 2254.5,344.5 2255.1,328.4 2256.0,326.1 2257.2,329.0 2257.9,305.3 2258.8,325.5 2259.5,323.9 2260.6,348.0 2261.4,322.5 2262.5,320.8 2263.4,320.8 2264.0,293.5 2264.8,321.2 2265.5,322.0 2266.7,341.9 2267.4,322.7 2268.4,320.1 2269.5,310.3 2270.1,319.9 2271.2,323.2 2272.1,329.7 2272.9,323.2 2273.9,320.0 2274.8,308.3 2275.3,321.2 2276.1,325.0 2277.0,322.5 2277.6,342.9 2278.2,325.8 2279.3,323.5 2280.4,326.3 2281.3,309.3 2282.0,321.1 2283.1,323.1 2283.7,334.8 2284.4,323.2 2285.5,321.0 2286.3,323.3 2286.9,306.3 2287.6,323.4 2288.4,325.4 2289.8,344.9 2290.6,325.5 2291.6,324.2 2292.4,325.6 2293.0,308.9 2293.9,325.5 2295.5,341.9 2296.3,328.3 2297.1,326.5 2297.9,329.9 2299.1,316.4 2299.9,326.4 2300.7,328.2 2301.6,341.3 2302.2,327.9 2303.3,327.3 2304.1,327.5 2304.6,308.3 2305.2,328.1 2306.0,328.1 2306.8,328.9 2307.6,346.9 2308.2,328.6 2309.4,327.9 2310.7,317.0 2311.6,324.4 2312.6,326.1 2313.7,331.1 2314.4,322.8 2315.5,319.6 2316.8,302.2 2317.5,320.4 2318.3,321.4 2319.4,340.9 2320.0,322.2 2320.9,321.3 2322.3,306.3 2323.0,321.7 2324.0,325.9 2325.0,322.1 2325.5,340.4 2326.3,325.2 2327.4,322.1 2328.3,310.3 2329.2,321.6 2330.0,324.4 2331.0,336.8 2331.8,324.4 2332.9,322.6 2333.9,324.3 2334.4,306.3 2335.3,323.6 2336.3,324.6 2337.1,349.4 2337.6,324.7 2338.7,325.1 2339.6,323.9 2340.5,303.6 2341.3,321.9 2342.6,337.8 2343.2,327.2 2344.4,322.7 2345.4,328.9 2346.6,312.4 2347.5,327.1 2348.6,353.4 2349.3,331.1 2350.2,327.8 2351.1,330.7 2352.3,308.3 2353.1,325.2 2354.2,328.7 2354.7,341.9 2355.4,328.5 2356.3,323.4 2357.2,328.1 2358.4,308.3 2359.3,324.3 2360.4,342.5 2361.1,325.2 2362.1,320.3 2363.2,322.7 2364.3,318.5 2364.9,299.6 2365.7,317.3 2366.5,339.8 2367.0,321.7 2367.9,319.4 2368.9,321.2 2369.9,318.7 2370.6,302.2 2371.1,318.3 2372.1,322.3 2372.6,336.4 2373.3,323.2 2374.2,319.6 2375.4,324.8 2376.2,306.9 2376.9,320.4 2378.3,339.8 2378.8,324.3 2379.7,320.3 2380.8,323.4 2381.7,300.2 2382.4,322.4 2383.4,324.4 2384.4,348.0 2385.0,326.4 2385.9,327.4 2386.9,329.0 2387.8,313.4 2388.7,326.5 2389.9,331.2 2390.4,345.9 2391.3,330.0 2392.5,324.9 2393.9,307.3 2394.6,324.5 2395.6,326.0 2396.5,343.9 2397.2,326.9 2398.1,325.7 2399.0,327.9 2400.0,308.3 2400.8,326.5 2402.0,328.3 2402.6,347.3 2403.2,328.2 2404.4,324.9 2405.5,305.3 2406.2,324.2 2407.3,326.1 2408.1,344.5 2408.9,327.8 2410.1,322.9 2411.1,303.2 2411.8,323.1 2413.0,326.7 2413.6,353.4 2414.4,325.2 2415.6,319.5 2416.5,322.4 2417.6,289.0 2418.4,314.8 2419.5,290.3 2424.0,316.0"/>
<text class="lb" x="1334.1" y="667.0" text-anchor="middle">time [s]</text>
<text class="lb" x="1333.9" y="743.5" text-anchor="middle">(a)</text>
</g>
<g>
<rect x="610" y="833.5" width="4" height="449" fill="#4b515c" fill-opacity="0.172"/>
<rect x="979" y="833.5" width="4" height="449" fill="#4b515c" fill-opacity="0.172"/>
<rect x="1348" y="833.5" width="4" height="449" fill="#4b515c" fill-opacity="0.172"/>
<rect x="1717" y="833.5" width="4" height="449" fill="#4b515c" fill-opacity="0.172"/>
<rect x="2086" y="833.5" width="4" height="449" fill="#4b515c" fill-opacity="0.172"/>
<rect x="243" y="1056" width="2181" height="4" fill="#4b515c" fill-opacity="0.172"/>
<text class="tk" x="241.5" y="1363.0" text-anchor="middle">0</text>
<rect x="610" y="1259" width="4" height="23" fill="#4b4c4e"/>
<rect x="610" y="834" width="4" height="23" fill="#4b4c4e"/>
<text class="tk" x="610.5" y="1363.0" text-anchor="middle">5</text>
<rect x="979" y="1259" width="4" height="23" fill="#4b4c4e"/>
<rect x="979" y="834" width="4" height="23" fill="#4b4c4e"/>
<text class="tk" x="979.5" y="1363.0" text-anchor="middle">10</text>
<rect x="1348" y="1259" width="4" height="23" fill="#4b4c4e"/>
<rect x="1348" y="834" width="4" height="23" fill="#4b4c4e"/>
<text class="tk" x="1348.5" y="1363.0" text-anchor="middle">15</text>
<rect x="1717" y="1259" width="4" height="23" fill="#4b4c4e"/>
<rect x="1717" y="834" width="4" height="23" fill="#4b4c4e"/>
<text class="tk" x="1717.5" y="1363.0" text-anchor="middle">20</text>
<rect x="2086" y="1259" width="4" height="23" fill="#4b4c4e"/>
<rect x="2086" y="834" width="4" height="23" fill="#4b4c4e"/>
<text class="tk" x="2086.5" y="1363.0" text-anchor="middle">25</text>
<text class="tk" x="216.0" y="856.5" text-anchor="end">100</text>
<rect x="244" y="1056" width="23" height="4" fill="#4b4c4e"/>
<rect x="2400" y="1056" width="23" height="4" fill="#4b4c4e"/>
<text class="tk" x="217.8" y="1081.0" text-anchor="end">50</text>
<text class="tk" x="216.0" y="1305.5" text-anchor="end">0</text>
<rect x="241" y="832" width="2185" height="3" fill="#4b4c4e"/>
<rect x="241" y="1281" width="2185" height="3" fill="#4b4c4e"/>
<rect x="241" y="832" width="4" height="452" fill="#4b4c4e"/>
<rect x="2422" y="832" width="4" height="452" fill="#4b4c4e"/>
<polyline fill="none" stroke="#0b72b9" stroke-width="5.0" stroke-linejoin="round" stroke-linecap="round" shape-rendering="crispEdges" points="243.1,1276.4 243.6,1276.4 244.2,1274.7 245.0,1275.7 245.9,1278.2 246.7,1278.2 247.6,1280.3 248.3,1281.3 249.0,1279.8 249.8,1280.3 250.5,1277.9 251.2,1273.3 251.9,1271.6 252.6,1268.2 253.4,1269.1 254.2,1272.4 255.0,1273.1 255.8,1276.5 256.6,1276.6 257.4,1279.6 258.2,1280.9 258.9,1277.9 259.7,1276.7 260.4,1272.5 261.1,1271.3 261.9,1268.2 262.7,1270.0 263.5,1273.8 264.4,1274.8 265.2,1279.0 266.0,1280.9 266.9,1276.0 267.7,1274.0 268.5,1268.4 269.4,1266.1 270.2,1260.2 271.1,1257.0 272.0,1262.1 272.9,1264.7 273.7,1270.4 274.6,1273.6 275.5,1268.9 276.3,1267.1 277.2,1261.4 278.0,1259.6 278.9,1255.1 279.8,1259.1 280.7,1265.2 281.6,1267.4 282.5,1273.7 283.4,1277.2 284.3,1271.6 285.2,1268.5 286.1,1262.8 287.0,1259.4 287.9,1254.3 288.7,1255.6 289.5,1260.1 290.4,1260.1 291.2,1264.7 292.1,1265.0 292.9,1268.0 293.7,1268.3 294.5,1266.9 295.2,1268.3 296.0,1266.8 296.8,1267.4 297.6,1267.3 298.5,1265.1 299.3,1266.1 300.2,1264.1 301.0,1259.5 301.8,1258.5 302.7,1252.2 303.5,1250.3 304.4,1251.0 305.3,1248.7 306.2,1251.5 307.1,1249.0 308.0,1250.1 308.8,1253.8 309.6,1253.3 310.4,1257.1 311.2,1258.1 312.0,1261.7 312.8,1261.8 313.6,1265.2 314.4,1262.6 315.3,1256.4 316.1,1254.5 317.0,1249.5 317.8,1247.7 318.6,1242.8 319.4,1243.8 320.2,1248.3 321.0,1248.7 321.8,1252.6 322.6,1254.0 323.4,1252.4 324.2,1255.1 325.0,1252.7 325.8,1255.1 326.6,1252.6 327.4,1253.9 328.2,1252.9 329.0,1249.6 329.8,1250.0 330.7,1244.9 331.5,1243.9 332.3,1247.3 333.1,1246.2 333.9,1251.0 334.6,1251.2 335.4,1254.0 336.3,1252.9 337.2,1248.4 338.1,1248.3 338.9,1244.8 339.8,1244.8 340.7,1241.1 341.5,1242.8 342.4,1250.0 343.3,1251.8 344.1,1251.0 344.9,1253.6 345.8,1251.0 346.6,1255.0 347.5,1252.3 348.3,1255.6 349.1,1252.4 350.0,1254.3 350.9,1251.4 351.8,1245.7 352.7,1243.8 353.6,1238.3 354.5,1235.8 355.3,1236.7 356.1,1233.2 357.0,1235.6 357.8,1232.5 358.7,1235.3 359.5,1233.3 360.4,1236.9 361.3,1244.8 362.2,1246.9 363.1,1253.2 363.9,1249.8 364.7,1241.9 365.5,1240.2 366.3,1232.4 367.1,1230.1 367.9,1221.4 368.8,1218.8 369.6,1213.1 370.3,1211.1 371.0,1213.8 371.7,1210.9 372.4,1212.0 373.2,1219.7 373.9,1222.8 374.7,1232.2 375.5,1235.5 376.3,1243.4 377.2,1241.5 378.0,1236.9 378.9,1236.5 379.8,1229.7 380.6,1229.8 381.5,1224.1 382.4,1224.6 383.3,1218.8 384.1,1217.6 385.0,1215.3 385.9,1209.2 386.8,1208.9 387.7,1202.3 388.6,1200.8 389.5,1209.6 390.4,1215.1 391.3,1225.6 392.2,1230.9 393.1,1239.4 393.9,1237.9 394.6,1230.5 395.4,1230.5 396.2,1223.7 397.0,1221.0 397.8,1223.4 398.7,1221.4 399.5,1223.9 400.4,1222.4 401.2,1225.9 402.0,1223.7 402.9,1227.3 403.7,1226.6 404.5,1221.6 405.2,1220.3 406.0,1213.6 406.7,1210.7 407.6,1218.7 408.4,1222.7 409.3,1233.2 410.1,1236.7 411.0,1245.4 411.8,1243.0 412.7,1234.5 413.5,1233.1 414.4,1225.5 415.2,1224.6 416.0,1218.7 416.9,1209.0 417.7,1203.3 418.5,1192.7 419.4,1185.7 420.2,1195.1 421.1,1200.7 421.9,1211.0 422.7,1217.1 423.5,1215.5 424.3,1218.0 425.1,1214.1 425.9,1217.1 426.7,1214.3 427.5,1216.2 428.3,1214.3 429.2,1203.0 430.0,1195.9 430.9,1182.3 431.7,1174.0 432.5,1185.7 433.4,1192.9 434.2,1205.9 435.1,1215.4 435.8,1209.7 436.5,1210.0 437.2,1202.0 437.9,1200.3 438.8,1207.6 439.6,1209.9 440.5,1218.7 441.4,1222.1 442.3,1207.9 443.2,1197.7 444.0,1184.0 444.7,1182.3 445.4,1185.4 446.1,1181.5 446.8,1182.9 447.7,1182.9 448.5,1178.3 449.3,1179.2 450.2,1175.1 451.1,1182.9 451.9,1196.4 452.8,1202.8 453.7,1214.9 454.5,1208.5 455.3,1199.0 456.1,1193.8 456.9,1183.8 457.8,1180.2 458.6,1168.7 459.4,1164.3 460.2,1154.3 461.0,1148.8 461.8,1161.3 462.7,1169.8 463.5,1183.9 464.3,1191.4 465.2,1204.6 466.0,1214.9 466.9,1205.5 467.7,1200.3 468.6,1188.5 469.5,1183.4 470.3,1172.7 471.2,1167.0 472.1,1156.0 472.9,1150.6 473.8,1139.7 474.6,1133.7 475.4,1142.3 476.1,1146.0 476.9,1156.5 477.6,1160.5 478.3,1169.0 479.2,1174.5 480.1,1176.5 481.0,1182.8 481.9,1185.2 482.8,1190.2 483.6,1183.8 484.3,1173.6 485.0,1169.2 485.8,1158.7 486.5,1152.7 487.3,1160.9 488.0,1164.0 488.8,1174.8 489.5,1179.6 490.4,1171.8 491.2,1167.7 492.1,1157.3 492.9,1152.7 493.6,1163.5 494.4,1170.3 495.2,1183.4 495.9,1191.4 496.7,1182.4 497.5,1178.3 498.3,1167.7 499.1,1163.5 499.9,1155.0 500.7,1158.0 501.5,1166.9 502.2,1169.3 503.0,1175.7 503.8,1177.9 504.6,1175.1 505.5,1179.4 506.3,1177.9 507.1,1167.2 507.8,1161.2 508.5,1149.5 509.3,1143.0 510.0,1132.6 510.8,1139.5 511.5,1150.3 512.3,1154.8 513.1,1166.4 513.8,1172.9 514.7,1156.0 515.5,1141.9 516.4,1125.3 517.2,1126.6 518.1,1133.1 518.9,1133.7 519.8,1138.7 520.5,1135.1 521.2,1125.2 521.9,1123.0 522.6,1115.8 523.4,1121.0 524.2,1131.6 525.0,1137.6 525.8,1124.3 526.5,1116.9 527.2,1103.2 528.0,1094.7 528.7,1081.6 529.5,1093.6 530.2,1109.6 531.0,1119.5 531.7,1133.1 532.5,1126.8 533.3,1116.0 534.1,1110.3 534.9,1100.7 535.8,1116.7 536.7,1137.1 537.6,1151.2 538.5,1169.5 539.2,1162.2 539.9,1149.3 540.7,1143.1 541.4,1131.5 542.1,1124.2 542.9,1120.0 543.6,1112.5 544.4,1111.4 545.1,1103.6 545.8,1099.6 546.7,1113.1 547.5,1121.2 548.3,1135.1 549.1,1143.3 549.9,1158.2 550.8,1168.4 551.5,1153.3 552.2,1141.3 552.9,1123.9 553.7,1111.9 554.5,1118.9 555.3,1120.2 556.1,1126.4 556.9,1115.1 557.7,1099.4 558.5,1090.2 559.3,1075.5 560.2,1087.5 561.1,1102.8 562.0,1111.5 562.9,1126.4 563.7,1132.0 564.5,1133.8 565.4,1141.6 566.2,1143.8 567.1,1127.0 567.9,1114.1 568.8,1095.4 569.6,1083.4 570.5,1066.5 571.4,1080.7 572.3,1099.3 573.2,1112.3 574.1,1129.8 574.7,1121.9 575.4,1109.6 576.1,1102.4 576.8,1110.2 577.6,1113.0 578.3,1123.0 579.1,1125.9 579.9,1134.3 580.7,1121.2 581.6,1103.8 582.4,1091.2 583.1,1101.3 583.8,1107.8 584.5,1120.1 585.2,1127.5 586.0,1117.3 586.7,1110.4 587.5,1099.6 588.4,1110.6 589.3,1126.8 590.2,1137.6 591.1,1152.2 591.8,1138.3 592.5,1119.3 593.3,1105.5 594.0,1087.6 594.8,1073.2 595.6,1090.3 596.5,1102.5 597.3,1120.3 598.2,1108.3 599.1,1091.2 600.0,1079.4 600.8,1094.8 601.5,1105.8 602.2,1124.0 603.0,1135.5 603.7,1150.5 604.4,1129.2 605.1,1102.5 605.8,1083.3 606.5,1058.7 607.4,1062.3 608.2,1071.2 609.0,1074.3 609.9,1081.6 612.2,1059.8 612.8,1090.7 613.6,1082.4 614.7,1095.5 615.4,1105.9 616.3,1093.6 617.2,1097.1 617.9,1097.9 618.5,1095.9 619.6,1090.9 620.3,1101.0 620.8,1083.2 622.0,1091.7 622.9,1070.6 624.0,1046.8 624.6,1091.7 625.5,1080.2 626.6,1095.2 627.6,1108.4 628.2,1089.0 629.2,1084.9 629.8,1097.6 630.8,1091.5 632.0,1097.8 633.0,1117.3 633.5,1086.6 634.7,1091.8 635.6,1087.5 636.5,1061.4 637.3,1087.4 638.1,1082.4 639.0,1106.7 639.7,1083.0 640.8,1091.0 641.9,1060.9 642.7,1093.1 643.6,1076.8 644.5,1094.0 645.1,1117.3 645.8,1070.3 646.7,1081.1 647.9,1047.6 648.7,1073.8 649.8,1068.7 650.3,1085.6 650.9,1066.1 651.7,1071.7 652.8,1051.7 653.5,1069.3 654.5,1064.6 655.2,1089.4 655.7,1061.7 656.7,1073.5 657.9,1057.4 658.8,1035.4 659.6,1077.1 660.8,1051.7 662.1,1064.0 663.0,1086.4 663.9,1054.8 664.7,1068.8 665.8,1041.1 666.3,1067.0 667.5,1061.0 668.2,1077.5 668.9,1063.7 669.9,1066.5 670.8,1067.3 671.4,1055.7 672.2,1068.7 673.4,1067.1 674.4,1085.6 675.0,1066.1 675.8,1069.7 676.8,1064.8 677.6,1050.0 678.4,1068.2 679.2,1067.0 679.9,1085.6 680.7,1066.7 681.6,1075.2 682.8,1052.5 683.4,1074.8 684.2,1065.4 685.3,1074.9 686.1,1084.8 686.8,1070.4 687.6,1075.9 688.5,1059.8 689.4,1079.2 690.2,1075.3 691.4,1083.4 692.2,1103.0 692.8,1080.3 693.4,1065.5 694.2,1077.1 695.1,1070.3 696.1,1069.8 697.4,1076.7 698.2,1057.3 699.4,1029.7 700.2,1063.8 701.1,1049.3 701.9,1064.0 703.4,1092.1 704.3,1045.2 705.3,1063.5 705.9,1018.7 706.6,1062.4 707.6,1050.1 708.8,1059.3 709.6,1076.7 710.2,1048.7 710.9,1056.0 712.0,1032.7 712.9,1056.2 714.0,1049.4 715.3,1064.5 716.1,1054.5 717.2,1059.5 718.5,1054.1 719.4,1064.2 721.0,1078.3 721.8,1055.7 722.7,1061.9 723.9,1025.7 724.7,1061.9 725.4,1047.7 726.6,1061.2 727.8,1079.1 728.7,1046.6 729.6,1057.0 730.7,1032.7 731.4,1055.7 732.1,1048.2 733.1,1070.2 733.9,1052.3 734.7,1056.4 735.6,1055.9 736.4,1051.7 737.0,1057.5 738.0,1056.3 738.8,1068.6 739.4,1054.6 740.5,1056.8 741.3,1052.3 742.1,1033.8 743.0,1058.8 743.7,1053.4 745.0,1074.3 745.6,1054.9 746.9,1042.7 747.5,1059.2 748.4,1052.4 749.6,1055.6 751.0,1070.2 751.7,1048.9 752.5,1054.0 753.4,1034.6 754.1,1053.0 755.3,1048.2 756.2,1051.8 756.7,1063.4 757.2,1048.2 758.3,1049.5 759.9,1033.8 760.8,1046.7 761.7,1040.9 762.4,1061.3 763.2,1038.1 764.3,1042.3 764.8,1016.7 765.5,1039.5 766.7,1036.1 767.5,1035.1 768.9,1056.4 769.7,1034.4 770.6,1038.8 771.3,1005.7 772.0,1043.3 772.8,1038.3 773.9,1048.3 774.5,1065.3 775.2,1044.5 775.9,1056.0 777.0,1040.3 777.6,1057.4 778.5,1052.0 779.6,1059.3 780.2,1073.4 781.0,1048.2 781.9,1055.5 783.1,1031.7 783.7,1053.5 784.5,1049.2 785.1,1073.4 785.7,1046.6 786.5,1055.3 787.4,1043.3 788.0,1027.8 788.8,1055.7 789.7,1052.3 790.9,1055.8 791.9,1078.3 792.7,1051.4 794.0,1029.7 794.9,1056.9 796.1,1048.3 797.3,1065.3 797.9,1048.8 799.4,1037.0 800.2,1050.1 801.1,1043.9 801.9,1047.4 803.0,1059.6 803.5,1041.4 804.5,1045.6 805.4,1021.6 806.1,1047.3 806.9,1038.3 807.8,1049.5 808.3,1068.6 809.1,1037.0 809.9,1047.3 811.1,1021.6 811.9,1050.5 813.0,1045.6 813.8,1053.9 814.5,1052.6 815.1,1072.6 815.9,1058.6 816.8,1050.0 817.6,1058.4 818.7,1055.8 820.0,1073.4 820.7,1053.7 821.5,1059.6 822.2,1052.4 822.8,1037.9 823.5,1060.8 824.7,1057.2 825.5,1062.6 826.0,1083.2 826.8,1055.6 827.6,1064.2 828.8,1054.2 829.3,1038.7 830.1,1061.6 831.2,1052.4 832.2,1073.4 832.8,1048.7 833.8,1057.2 834.6,1023.6 835.1,1057.6 836.0,1043.1 836.8,1057.8 837.9,1071.5 838.5,1050.4 839.2,1060.7 840.3,1040.3 841.1,1062.4 842.1,1053.8 843.3,1064.1 844.0,1090.0 844.8,1054.5 845.8,1061.9 846.8,1040.3 847.4,1057.3 848.2,1050.3 849.2,1051.8 850.0,1062.9 850.9,1044.2 852.0,1026.8 852.6,1051.4 853.5,1047.8 854.6,1056.4 855.4,1054.6 856.2,1072.6 857.3,1049.2 857.9,1060.0 858.9,1054.3 860.0,1053.0 860.7,1047.5 861.4,1068.6 862.2,1041.8 863.3,1046.7 863.8,1008.6 864.4,1044.4 865.6,1033.5 866.3,1051.5 866.9,1038.1 867.8,1044.6 869.0,1045.6 869.5,1042.7 870.3,1048.9 871.2,1042.9 872.3,1052.1 872.8,1066.1 873.4,1036.1 874.2,1047.8 874.9,1004.6 875.5,1050.0 876.6,1030.8 877.4,1054.3 878.9,1074.3 879.8,1042.0 880.9,1033.8 881.4,1058.7 882.2,1047.9 883.2,1060.5 884.1,1076.7 884.9,1046.3 886.1,1031.4 886.7,1051.4 887.8,1044.6 888.6,1044.3 889.8,1063.7 890.4,1030.8 891.2,1042.8 892.2,1023.2 892.7,995.6 893.4,1055.8 894.2,1038.0 895.1,1064.6 896.3,1095.4 897.1,1053.6 898.0,1060.6 898.7,1046.8 899.4,1050.9 900.0,1028.7 900.0,1057.8 900.9,1033.2 901.8,1043.3 903.2,1023.8 904.1,1035.9 904.9,1044.8 905.6,1030.7 906.8,1038.3 908.0,1027.4 909.4,1012.1 910.2,1038.4 911.3,1025.6 912.2,1057.0 912.8,1023.0 914.0,1031.4 914.7,1017.9 915.4,1003.0 916.3,1023.7 917.5,1014.3 918.2,1038.3 919.0,1011.6 919.9,1019.3 920.6,991.7 921.4,1021.3 922.4,1018.6 923.9,1042.9 924.6,1021.0 925.4,1026.3 926.8,1006.8 927.6,1031.9 928.8,1025.3 929.7,1054.9 930.4,1027.8 931.2,1040.7 932.5,1013.3 933.2,1040.6 934.3,1025.1 935.7,1057.8 936.3,1020.5 937.2,1034.2 938.6,997.9 939.4,1032.6 940.4,1020.5 941.4,1049.7 942.3,1027.7 943.2,1034.1 943.8,1015.7 944.6,1032.9 945.7,1023.8 947.1,1047.7 947.7,1021.9 948.9,1023.1 949.5,1003.5 950.0,1020.6 950.8,1014.3 951.9,1016.5 952.8,1027.8 953.5,1013.0 954.5,1015.0 955.2,997.9 955.8,1015.0 957.1,1010.1 957.9,1014.8 958.9,1038.6 959.7,1006.8 960.9,985.7 961.6,1005.1 962.6,998.7 964.1,1016.4 964.6,991.0 965.4,996.7 966.9,968.6 967.8,997.0 968.7,988.8 969.8,1018.8 970.5,992.3 971.5,1001.4 972.6,983.2 973.3,1003.3 974.2,996.0 975.2,1004.8 975.8,1016.4 976.7,994.0 977.6,1001.9 979.1,973.8 979.7,1004.0 980.7,999.9 981.7,1023.7 982.5,1004.8 983.3,1010.5 984.4,996.2 985.0,1012.6 986.0,1006.0 986.8,1014.2 987.4,1038.0 988.0,997.5 988.9,1017.2 990.4,960.8 991.3,1013.7 992.1,1003.4 993.4,1032.6 994.1,1012.5 995.1,1023.3 996.6,1014.1 997.5,1028.2 998.3,1024.6 999.4,1051.6 999.9,1020.1 1000.8,1025.9 1001.7,1013.5 1002.3,1001.1 1002.8,1007.4 1004.0,993.7 1004.7,1010.7 1005.5,973.2 1006.8,930.5 1007.7,993.1 1008.9,980.4 1009.9,1002.5 1010.7,1036.7 1011.3,995.1 1012.3,1005.7 1012.8,988.1 1013.4,1001.1 1014.2,992.2 1015.3,991.3 1016.1,1012.3 1016.9,977.4 1018.5,931.6 1019.4,979.2 1020.4,963.5 1021.8,995.3 1022.6,974.9 1023.3,985.0 1024.4,984.8 1025.0,966.2 1025.9,996.1 1026.8,990.0 1027.8,1033.1 1028.6,987.2 1029.7,1002.9 1030.7,969.4 1031.5,995.3 1033.1,1000.6 1033.9,989.2 1034.7,992.2 1035.4,989.8 1036.4,969.4 1037.2,1001.1 1038.8,1035.4 1039.6,999.4 1040.5,1015.7 1041.4,1005.1 1042.6,988.1 1043.4,1013.4 1044.2,998.4 1044.8,1023.7 1045.6,996.5 1046.8,1008.2 1047.8,974.3 1048.4,1011.8 1049.2,1005.7 1050.2,1016.5 1051.0,1039.6 1051.7,1014.6 1052.9,1017.2 1053.4,1007.6 1054.1,1015.0 1055.2,1005.3 1056.2,1010.8 1056.7,1022.9 1057.2,990.4 1058.3,954.8 1059.2,990.8 1060.0,982.9 1061.1,980.2 1062.0,1001.8 1062.8,977.0 1064.0,950.0 1064.8,990.9 1065.9,970.5 1066.8,996.6 1068.0,1022.9 1068.6,972.9 1069.8,988.7 1070.5,949.1 1071.0,986.2 1072.0,967.2 1072.7,980.9 1073.5,964.0 1074.1,990.9 1074.7,961.8 1075.5,976.8 1076.2,944.6 1077.0,982.0 1078.0,979.9 1079.4,1010.7 1080.2,988.2 1081.3,992.2 1081.8,979.2 1082.7,995.4 1083.5,991.6 1085.1,1017.5 1085.7,991.0 1086.7,1007.0 1087.5,970.3 1088.2,1008.7 1089.0,996.7 1090.2,1011.5 1090.8,1032.6 1091.5,1003.2 1092.7,1013.3 1093.5,1008.3 1094.0,987.3 1094.7,1018.0 1095.8,1002.2 1096.5,1036.7 1097.1,1001.5 1097.9,1013.9 1099.2,983.2 1100.0,1008.6 1101.1,997.6 1102.1,1019.6 1103.0,993.7 1103.8,1003.0 1104.9,975.9 1105.4,1003.3 1106.4,989.4 1107.8,1023.7 1108.7,986.7 1109.8,992.7 1110.6,957.3 1111.4,985.6 1112.3,969.4 1113.2,977.7 1114.0,1004.2 1114.8,959.7 1115.8,973.7 1117.1,932.1 1117.7,968.9 1119.2,981.5 1119.7,963.6 1120.9,969.6 1121.8,972.2 1122.4,964.6 1123.3,979.5 1124.9,994.5 1125.7,973.8 1126.8,981.8 1127.6,956.9 1128.3,985.8 1129.2,979.4 1130.6,1014.0 1131.3,975.5 1132.2,990.9 1133.5,952.7 1134.3,998.8 1135.4,984.1 1136.7,1028.6 1137.4,991.1 1138.2,1004.8 1139.0,997.0 1139.5,971.9 1140.2,1005.0 1141.2,994.0 1142.2,1005.7 1143.1,1033.8 1143.7,994.5 1144.8,997.6 1146.0,960.8 1146.8,997.9 1147.8,986.1 1148.4,1015.9 1149.0,991.2 1149.9,997.1 1150.7,998.3 1151.3,984.1 1151.8,995.2 1152.8,992.4 1153.6,1019.6 1154.4,984.4 1155.3,993.3 1156.5,934.9 1157.1,989.3 1158.0,967.1 1159.2,984.9 1159.8,1011.5 1160.4,969.8 1161.4,989.5 1162.3,973.1 1163.0,947.8 1163.9,988.2 1165.1,977.9 1166.0,1017.5 1166.7,974.7 1167.6,986.1 1168.7,951.6 1169.5,976.1 1170.7,965.5 1171.5,989.6 1172.3,961.7 1173.1,965.2 1174.4,906.6 1175.2,979.6 1176.1,960.0 1177.0,992.1 1177.6,1022.9 1178.3,974.8 1179.3,979.3 1180.4,960.5 1181.3,978.8 1182.1,978.3 1183.3,994.5 1184.2,974.6 1184.9,981.1 1186.1,950.8 1186.9,987.6 1187.7,978.1 1188.7,1008.3 1189.4,983.0 1190.3,993.6 1191.8,955.3 1192.6,1003.7 1193.7,986.9 1194.7,1035.4 1195.3,989.9 1196.5,1010.0 1197.9,965.1 1198.8,1008.6 1200.0,984.9 1200.0,1025.3 1200.6,990.9 1201.6,1009.3 1202.4,993.5 1203.2,985.7 1204.1,1008.7 1204.9,998.2 1205.7,1033.8 1206.5,994.6 1207.4,1004.6 1208.9,971.9 1209.6,999.6 1210.8,981.3 1211.7,1014.8 1212.3,973.0 1213.2,987.9 1214.3,960.3 1214.9,928.8 1215.7,983.3 1216.5,967.9 1217.9,1012.3 1218.7,969.9 1219.5,989.0 1220.8,953.2 1221.6,990.1 1222.5,971.6 1223.4,990.4 1223.9,1009.9 1224.7,969.5 1226.0,945.1 1226.6,976.2 1227.5,966.2 1228.4,968.6 1228.9,996.1 1229.5,962.4 1230.5,966.6 1231.3,924.0 1232.1,971.0 1233.0,968.8 1233.9,976.0 1234.9,1019.6 1235.7,977.3 1236.8,995.8 1238.2,951.1 1238.8,997.5 1239.9,978.4 1240.9,1023.7 1241.4,980.2 1242.2,997.3 1243.5,966.7 1244.4,994.2 1245.2,985.4 1246.0,991.4 1246.8,1014.8 1247.6,987.2 1248.7,961.3 1249.5,995.8 1250.5,992.6 1251.5,1002.1 1252.3,1037.5 1252.8,998.9 1253.7,1011.6 1254.5,1003.4 1255.2,978.4 1255.8,1001.7 1256.8,990.7 1257.8,991.7 1258.5,1015.6 1259.0,982.8 1260.2,992.9 1261.4,945.1 1262.1,985.1 1263.1,970.3 1264.1,999.7 1264.8,963.2 1266.0,972.2 1266.9,931.0 1267.6,966.9 1268.6,960.5 1269.8,994.8 1270.4,958.8 1271.5,965.5 1272.7,925.6 1273.5,971.7 1274.2,959.3 1275.8,1005.8 1276.7,958.5 1277.6,979.3 1278.4,958.4 1279.1,930.0 1279.7,972.6 1280.7,949.9 1281.7,987.7 1282.2,951.0 1283.2,968.8 1284.1,929.7 1284.8,971.2 1285.9,964.6 1287.2,995.8 1287.9,967.9 1288.7,982.2 1289.8,951.1 1290.3,988.5 1291.1,972.1 1292.1,994.2 1292.9,1016.4 1293.7,981.6 1294.5,991.3 1296.1,966.2 1296.9,996.6 1298.1,990.8 1299.0,1011.5 1299.7,992.5 1300.5,996.2 1301.5,980.0 1302.0,998.1 1303.2,983.5 1304.0,999.6 1305.2,1021.8 1305.7,972.2 1306.6,994.2 1308.0,941.0 1308.8,986.5 1309.6,965.8 1310.7,978.8 1311.2,1002.3 1311.9,968.9 1312.7,980.0 1313.7,945.1 1314.6,981.6 1315.7,968.1 1316.9,1012.3 1317.5,966.5 1318.3,986.3 1319.3,965.6 1320.1,949.1 1320.9,971.6 1322.6,982.3 1323.4,964.0 1324.7,941.0 1325.4,974.5 1326.5,956.1 1327.5,981.8 1328.3,1012.3 1329.1,956.1 1329.9,968.1 1331.2,914.2 1331.9,963.5 1332.7,945.5 1333.7,958.8 1334.4,988.8 1335.1,948.0 1336.1,971.6 1336.7,924.5 1337.4,975.9 1338.2,962.9 1339.3,984.8 1340.4,1032.6 1341.2,980.1 1342.9,971.1 1343.7,994.5 1344.8,981.0 1346.1,996.1 1347.0,977.4 1347.8,982.8 1348.6,954.8 1349.4,986.7 1350.6,976.7 1351.3,1016.4 1352.0,981.5 1353.2,992.8 1353.9,965.1 1354.6,991.6 1355.7,978.5 1356.6,989.4 1357.5,1013.6 1358.1,971.9 1359.0,981.1 1359.9,967.5 1360.7,928.0 1361.4,972.8 1362.9,1002.9 1363.5,963.6 1364.7,969.5 1365.9,936.2 1366.6,972.3 1367.5,960.0 1368.4,975.5 1369.7,996.9 1370.5,959.0 1372.1,928.8 1372.7,959.6 1373.7,957.4 1375.0,979.5 1375.6,956.4 1376.7,968.8 1377.8,931.3 1378.3,976.9 1379.5,953.7 1380.5,1012.7 1381.1,954.7 1382.3,974.1 1383.5,926.1 1384.1,973.4 1385.3,970.1 1386.7,1009.9 1387.5,969.0 1388.5,977.0 1389.6,950.0 1390.2,977.6 1391.1,972.4 1392.0,978.0 1392.7,1002.6 1393.5,976.4 1394.4,982.4 1395.6,962.1 1396.2,986.3 1397.8,1007.1 1398.6,972.1 1399.8,984.5 1401.0,941.0 1401.8,978.9 1402.7,970.9 1403.8,1009.4 1404.3,974.3 1405.2,990.6 1406.0,978.4 1406.5,943.5 1407.0,992.1 1408.2,972.4 1408.9,994.2 1409.9,1018.8 1410.7,967.5 1411.8,981.1 1412.7,943.9 1413.5,976.5 1414.3,964.8 1415.6,995.8 1416.3,968.1 1417.1,979.2 1418.4,948.8 1419.3,977.3 1420.3,971.7 1420.8,1004.5 1421.5,970.0 1422.6,980.0 1423.7,940.2 1424.3,979.6 1425.5,965.5 1427.0,1006.7 1427.7,971.6 1428.5,985.5 1429.7,952.7 1430.6,992.9 1431.7,978.7 1433.0,1023.7 1433.5,985.2 1434.3,997.1 1435.8,965.4 1436.6,994.6 1437.7,983.1 1438.7,1008.8 1439.2,978.3 1440.1,983.3 1441.0,972.5 1441.9,949.5 1442.7,980.1 1443.8,978.2 1444.4,1003.9 1444.9,978.3 1446.0,990.4 1447.6,956.9 1448.3,993.7 1449.3,968.5 1450.0,1019.6 1450.6,963.3 1451.4,983.6 1452.5,954.7 1453.4,973.3 1454.1,925.1 1454.7,966.2 1455.6,960.9 1456.5,983.1 1457.4,960.5 1458.2,936.2 1459.0,961.3 1460.0,955.1 1460.8,962.1 1461.4,994.5 1462.1,956.5 1463.3,972.0 1463.8,925.1 1464.6,972.0 1465.9,944.1 1467.1,971.3 1467.9,1001.8 1468.7,931.6 1469.6,957.4 1471.1,892.0 1471.8,960.5 1473.0,956.8 1474.4,1001.8 1475.1,971.7 1476.2,983.4 1476.8,969.4 1477.7,981.9 1478.7,978.7 1479.3,1000.2 1479.8,975.2 1481.0,985.0 1481.7,949.1 1482.2,986.3 1483.1,973.1 1484.1,989.2 1485.3,1024.0 1486.1,975.4 1487.0,988.8 1488.2,939.7 1488.7,990.0 1489.8,980.2 1490.6,991.8 1491.4,1008.3 1492.2,984.1 1493.1,995.6 1494.7,978.4 1495.5,997.6 1497.1,1011.5 1497.8,981.6 1498.7,997.1 1500.0,965.4 1500.0,1001.0 1500.7,979.4 1501.9,996.1 1502.9,1007.5 1503.5,966.5 1504.3,983.4 1505.7,932.1 1506.4,976.1 1507.4,953.8 1508.9,989.6 1509.6,955.5 1510.4,975.2 1511.7,937.5 1512.3,977.4 1513.5,952.0 1514.6,1007.8 1515.4,949.6 1516.6,966.6 1517.4,918.0 1518.3,966.8 1519.1,952.4 1520.3,980.7 1520.9,951.4 1521.7,961.0 1522.7,938.1 1523.6,961.4 1524.6,955.8 1526.0,980.2 1526.7,953.7 1527.8,958.8 1528.9,923.2 1529.7,959.8 1530.8,949.6 1532.0,999.7 1532.5,948.7 1533.4,976.9 1534.9,919.9 1535.5,982.5 1536.6,968.4 1538.2,1018.8 1538.9,976.8 1539.6,987.6 1540.6,966.2 1541.2,984.6 1542.0,985.8 1543.1,980.1 1543.8,1004.5 1544.5,977.8 1545.4,978.0 1546.3,972.2 1547.1,941.0 1547.7,978.4 1548.7,966.8 1549.5,1002.6 1550.3,968.8 1551.1,974.8 1552.3,943.9 1553.1,976.0 1554.0,967.7 1555.2,976.7 1555.7,1003.4 1556.2,963.1 1557.3,973.5 1558.1,935.3 1559.0,972.4 1559.9,957.9 1561.4,988.3 1562.1,954.9 1563.1,960.9 1564.1,920.7 1564.9,965.7 1566.1,953.2 1567.1,1009.9 1567.7,957.8 1568.8,969.0 1570.1,943.9 1571.0,967.9 1571.9,950.7 1573.1,984.4 1573.9,942.8 1574.8,964.5 1575.5,906.1 1576.4,967.9 1577.4,956.9 1578.4,972.1 1579.1,1008.8 1579.6,975.1 1580.7,987.9 1581.2,959.7 1581.8,987.4 1582.6,978.6 1583.7,986.3 1584.9,1030.5 1585.6,964.1 1586.4,986.3 1587.2,956.1 1587.7,924.0 1588.2,981.3 1589.1,969.4 1590.1,973.8 1590.9,994.5 1591.6,973.3 1592.7,981.0 1593.4,950.4 1593.9,990.0 1594.7,977.9 1595.9,1003.8 1597.1,1036.7 1597.9,980.2 1598.7,999.3 1599.4,962.9 1599.9,989.5 1600.9,974.3 1602.3,992.5 1603.0,963.7 1604.0,972.8 1605.2,928.4 1605.9,978.9 1607.0,965.9 1608.3,1014.0 1608.9,964.3 1610.1,968.9 1611.0,960.8 1611.7,941.4 1612.2,961.8 1613.4,948.8 1614.1,980.2 1615.0,941.6 1615.8,954.3 1616.9,911.8 1617.6,956.5 1618.8,948.2 1620.1,983.9 1620.7,958.7 1621.5,967.6 1622.6,960.2 1623.5,970.7 1624.5,968.2 1625.0,999.7 1625.6,961.1 1626.4,978.8 1627.6,949.9 1628.3,926.7 1628.8,976.0 1629.8,957.6 1630.7,990.4 1631.2,961.4 1632.3,981.4 1633.2,967.0 1634.0,947.8 1634.6,990.1 1635.8,978.1 1637.2,1028.9 1638.0,978.8 1638.9,996.0 1640.0,958.1 1640.7,994.0 1641.6,984.4 1642.9,1004.5 1643.5,985.7 1644.3,992.1 1645.3,987.4 1646.1,967.8 1646.7,994.6 1647.9,985.4 1648.6,1014.8 1649.2,982.8 1649.9,996.9 1651.2,979.0 1651.8,961.3 1652.6,987.6 1653.7,967.7 1655.1,1006.7 1655.9,957.8 1656.9,978.1 1658.0,911.8 1658.6,977.1 1659.4,949.5 1660.4,973.5 1661.2,985.5 1661.9,969.7 1662.8,975.0 1663.7,973.5 1664.4,979.9 1665.3,971.5 1665.9,999.7 1666.6,964.0 1667.6,969.1 1668.4,952.0 1669.7,913.7 1670.2,960.2 1671.2,944.1 1672.1,974.7 1672.9,947.4 1673.7,962.2 1675.0,919.9 1675.7,969.2 1676.6,959.3 1677.8,1007.8 1678.5,970.5 1679.4,980.8 1680.7,960.5 1681.3,974.5 1682.4,969.4 1683.8,991.6 1684.4,955.9 1685.3,962.5 1686.7,905.0 1687.4,965.5 1688.3,951.8 1689.4,968.0 1690.0,1002.6 1690.7,969.3 1691.7,976.9 1692.7,959.7 1693.5,983.0 1694.7,974.7 1696.0,1007.5 1696.8,973.1 1697.6,976.6 1698.4,943.9 1699.0,974.4 1699.8,961.3 1701.0,972.4 1701.7,986.7 1702.4,960.5 1703.5,967.1 1704.1,940.2 1705.0,966.9 1705.7,953.7 1706.7,968.0 1707.5,992.9 1708.3,933.4 1709.1,946.2 1710.1,920.2 1710.7,887.8 1711.4,938.6 1712.5,931.2 1713.2,968.5 1713.9,938.6 1714.9,951.3 1716.4,924.5 1717.0,958.1 1718.1,949.3 1718.9,986.0 1719.7,948.4 1720.7,955.7 1721.6,933.7 1722.3,952.4 1723.1,945.8 1724.4,967.7 1724.9,940.1 1726.1,946.5 1727.3,893.1 1728.0,957.6 1729.1,952.3 1730.2,970.7 1731.0,1018.8 1731.8,962.7 1732.6,977.0 1734.1,950.0 1734.9,981.5 1736.0,976.0 1737.1,996.4 1737.6,974.8 1738.7,983.9 1739.5,962.1 1740.3,986.0 1741.3,981.2 1742.7,1002.6 1743.5,982.4 1744.5,986.1 1745.2,969.0 1745.7,986.0 1746.9,976.8 1747.9,984.9 1748.4,1014.8 1749.0,968.8 1750.0,976.4 1750.8,961.0 1751.3,923.5 1752.1,961.2 1752.8,946.2 1754.1,966.6 1754.9,936.2 1755.6,949.3 1756.9,909.4 1757.6,953.9 1758.7,935.0 1759.8,975.8 1760.5,940.9 1761.3,951.2 1762.5,924.5 1763.3,950.3 1764.3,946.3 1765.5,974.7 1766.0,942.3 1767.0,957.3 1767.9,915.0 1768.7,954.9 1769.7,943.7 1770.8,979.5 1771.7,944.6 1772.8,956.1 1774.1,909.4 1775.0,963.9 1776.1,942.4 1777.6,994.5 1778.3,950.9 1779.4,975.7 1780.1,941.0 1780.8,976.2 1781.9,972.2 1783.0,978.0 1783.8,1001.8 1784.3,974.7 1785.4,980.8 1786.6,951.1 1787.3,982.6 1788.1,965.0 1789.0,1005.8 1789.8,961.5 1791.0,976.1 1792.3,925.1 1793.1,973.2 1794.2,959.6 1795.5,994.8 1796.1,970.6 1797.1,980.4 1797.9,969.4 1798.5,981.6 1799.3,963.9 1800.0,945.9 1800.0,996.1 1800.7,966.7 1801.5,972.9 1802.3,958.3 1803.5,967.4 1804.1,932.9 1804.6,964.0 1805.7,947.1 1806.5,974.2 1807.2,942.6 1808.2,957.8 1809.4,911.8 1810.3,957.7 1811.5,945.3 1812.2,988.8 1813.0,944.7 1813.8,954.4 1815.1,926.1 1815.7,950.8 1816.6,942.9 1818.2,958.8 1819.0,939.6 1820.0,949.3 1820.8,937.5 1821.4,911.0 1822.1,958.5 1823.0,950.3 1823.8,965.0 1824.4,1001.3 1824.9,955.9 1826.1,966.1 1826.8,943.9 1827.5,966.2 1828.7,963.9 1830.0,983.1 1830.9,962.3 1832.1,967.2 1833.0,926.1 1833.7,973.3 1834.7,967.7 1836.0,1005.0 1836.8,983.8 1838.0,992.6 1839.0,986.5 1839.8,996.5 1840.7,994.4 1841.5,1000.1 1842.2,1019.6 1843.1,986.4 1844.7,964.1 1845.2,989.4 1846.4,981.9 1847.9,1005.5 1848.7,978.0 1849.6,980.5 1850.3,944.3 1850.9,982.1 1852.0,972.1 1853.3,1016.4 1854.0,974.8 1855.1,982.6 1855.9,976.7 1856.5,957.6 1857.3,978.5 1858.1,972.4 1859.6,993.2 1860.3,969.8 1861.4,977.8 1862.5,945.1 1863.3,976.8 1864.1,964.4 1865.3,994.2 1865.8,960.1 1866.9,971.9 1867.9,931.0 1868.5,971.8 1869.3,963.2 1870.4,971.1 1871.4,999.3 1872.2,965.2 1873.1,972.4 1874.4,938.1 1875.2,979.0 1876.3,970.5 1876.8,1002.3 1877.5,973.3 1878.5,974.5 1879.6,954.8 1880.1,971.8 1880.9,971.9 1881.8,968.8 1882.5,994.2 1883.2,966.1 1884.4,966.7 1884.9,931.0 1885.5,966.9 1886.6,953.9 1887.6,968.2 1888.8,994.2 1889.4,962.8 1890.2,968.4 1890.9,945.1 1891.6,968.9 1892.4,960.1 1893.3,969.2 1894.7,1000.6 1895.3,958.3 1896.4,967.2 1897.4,931.0 1898.1,961.8 1899.0,942.2 1900.7,976.3 1901.5,936.1 1902.8,892.0 1903.4,954.2 1904.4,937.8 1905.4,963.3 1906.7,992.5 1907.4,944.1 1908.2,952.5 1909.1,928.0 1909.7,948.8 1910.7,936.7 1912.0,964.4 1912.8,924.7 1914.0,929.2 1914.8,888.3 1915.4,925.3 1916.5,912.5 1917.7,944.1 1918.3,913.8 1919.4,930.0 1920.1,897.2 1920.8,930.0 1921.6,922.5 1922.8,930.3 1923.7,972.1 1924.4,920.3 1925.3,932.6 1926.2,917.9 1927.0,885.0 1927.6,936.3 1928.8,923.9 1929.9,975.3 1930.5,931.2 1931.6,950.5 1932.8,918.3 1933.4,962.7 1934.4,948.0 1935.2,974.6 1936.1,1011.5 1936.9,959.2 1938.0,968.5 1938.8,938.1 1939.7,959.5 1940.8,950.8 1941.7,965.3 1942.6,939.5 1943.4,950.5 1944.5,908.2 1945.1,954.4 1946.1,941.7 1947.8,977.4 1948.6,947.0 1949.4,951.6 1950.2,934.5 1950.9,946.6 1952.1,936.2 1953.4,955.5 1954.2,918.9 1955.3,928.8 1956.2,879.7 1956.8,921.5 1957.7,905.0 1958.6,915.7 1959.1,927.1 1959.8,905.7 1961.0,915.2 1962.0,882.2 1962.7,919.1 1963.7,913.9 1964.8,959.6 1965.6,919.6 1966.7,936.4 1967.2,898.0 1968.0,933.7 1968.9,923.6 1969.8,930.4 1970.8,959.6 1971.5,921.9 1972.3,936.7 1972.9,896.4 1973.8,944.2 1974.7,929.0 1975.6,953.4 1976.7,986.4 1977.2,941.3 1978.1,966.8 1978.9,952.0 1979.4,932.6 1980.2,969.1 1981.4,956.4 1982.3,997.4 1982.9,950.9 1984.1,964.5 1985.4,905.0 1986.2,968.5 1987.2,952.8 1988.7,990.4 1989.4,968.3 1990.6,974.6 1991.3,968.6 1991.8,978.9 1993.0,976.1 1994.0,986.0 1994.8,1007.5 1995.4,967.9 1996.6,970.7 1997.3,935.3 1998.2,959.0 1999.1,942.9 2000.5,956.8 2001.4,935.0 2002.4,941.5 2003.0,902.1 2003.5,946.1 2004.4,940.0 2005.2,953.0 2005.9,985.5 2006.6,951.0 2007.6,956.6 2008.3,948.3 2009.1,952.8 2009.9,947.2 2010.8,947.4 2011.6,965.6 2012.3,927.0 2013.4,942.6 2014.6,879.7 2015.5,934.0 2016.3,922.2 2017.3,928.8 2017.9,959.6 2018.5,932.0 2019.5,935.6 2020.3,916.3 2021.2,940.9 2022.2,936.7 2023.7,991.6 2024.4,935.1 2025.5,947.1 2026.5,891.5 2027.1,950.7 2028.1,945.7 2029.4,981.5 2030.3,955.2 2031.5,965.6 2032.2,935.3 2033.0,969.3 2034.2,961.5 2035.4,1002.6 2036.3,961.4 2037.5,965.5 2038.4,941.0 2039.1,961.0 2039.9,958.4 2041.1,973.4 2041.8,956.7 2042.6,964.7 2043.5,934.9 2044.3,970.0 2045.5,948.6 2046.8,1003.4 2047.4,946.2 2048.6,958.9 2050.0,923.2 2050.9,947.5 2051.8,934.2 2052.8,950.6 2053.5,928.8 2054.7,936.8 2055.7,896.9 2056.5,941.6 2057.5,927.0 2059.0,974.7 2059.6,937.8 2060.4,954.6 2061.4,932.1 2062.0,954.9 2062.8,945.6 2064.0,954.6 2064.7,973.0 2065.2,937.2 2066.3,957.0 2067.1,910.2 2068.0,958.7 2069.0,938.0 2070.2,963.3 2070.8,984.7 2071.7,948.2 2072.7,962.9 2073.6,924.0 2074.1,970.5 2074.9,948.3 2076.1,981.5 2076.8,1018.8 2077.4,946.1 2078.3,976.4 2079.6,924.0 2080.1,963.8 2081.1,949.8 2082.5,963.6 2083.2,944.8 2084.2,948.0 2084.9,918.0 2085.6,950.2 2086.4,943.4 2087.2,952.2 2088.7,997.4 2089.4,936.8 2090.3,967.6 2091.4,904.0 2092.2,963.8 2093.4,950.3 2094.7,989.3 2095.3,950.0 2096.5,954.5 2097.9,923.2 2098.8,960.6 2100.0,926.0 2100.1,998.6 2100.7,939.1 2101.6,971.5 2102.4,932.3 2103.1,920.8 2103.9,962.6 2105.0,944.6 2105.5,971.0 2106.2,940.5 2107.4,954.6 2108.6,913.9 2109.3,958.5 2110.1,948.5 2111.7,995.2 2112.5,949.0 2113.4,957.0 2114.3,949.5 2115.2,929.5 2115.9,951.0 2116.9,945.3 2118.1,965.9 2118.9,942.5 2120.1,957.1 2120.7,918.2 2121.6,963.2 2122.4,948.2 2123.8,993.1 2124.7,960.2 2125.6,964.7 2126.4,948.4 2127.1,963.1 2128.3,961.6 2129.0,993.8 2129.7,956.0 2130.8,970.1 2132.4,891.2 2133.0,971.5 2133.9,946.0 2135.1,971.8 2135.9,1007.3 2136.7,973.0 2137.8,985.7 2138.8,976.0 2139.6,991.0 2141.1,1017.6 2141.7,972.3 2142.9,976.6 2143.9,959.5 2144.5,926.0 2145.1,955.8 2146.6,960.7 2147.5,944.5 2148.6,950.1 2149.5,944.5 2150.0,925.1 2150.6,957.8 2151.7,939.5 2152.3,990.9 2153.0,938.0 2154.2,949.2 2155.3,934.7 2156.1,920.5 2156.8,939.1 2157.8,925.9 2158.7,941.7 2159.2,921.4 2160.3,933.5 2160.9,891.8 2161.7,941.7 2162.9,929.8 2164.2,955.9 2164.7,1006.4 2165.3,946.7 2166.2,957.9 2167.3,932.0 2168.1,949.9 2169.3,944.4 2170.4,956.9 2171.1,942.1 2172.3,949.3 2173.0,909.1 2173.7,958.3 2174.5,940.2 2175.5,971.8 2176.8,1002.1 2177.6,954.1 2178.3,968.9 2179.4,941.5 2179.9,974.5 2180.7,960.9 2181.7,979.9 2182.5,1003.5 2183.2,963.1 2184.4,988.7 2185.0,926.3 2185.6,993.7 2186.6,976.5 2187.8,1001.5 2188.8,1027.6 2189.5,1002.1 2190.6,998.5 2191.1,1003.3 2192.1,997.2 2193.2,994.5 2194.0,1004.7 2194.6,978.6 2195.7,950.2 2196.6,977.5 2197.5,966.5 2198.5,970.0 2199.2,990.0 2199.7,964.5 2200.7,969.4 2202.1,937.2 2202.9,973.9 2204.1,965.0 2205.2,1015.0 2205.8,965.5 2206.7,974.7 2207.6,966.1 2208.7,938.9 2209.4,974.8 2210.6,963.5 2212.1,990.9 2213.0,970.2 2213.9,958.4 2214.4,979.1 2215.6,971.1 2216.7,978.6 2217.3,994.3 2217.9,964.8 2219.1,969.3 2219.9,936.7 2220.4,964.7 2221.2,960.2 2222.3,958.2 2223.3,993.1 2224.1,945.0 2225.0,960.6 2225.9,906.2 2226.7,964.3 2227.7,947.0 2228.7,970.6 2229.7,1002.4 2230.3,968.0 2231.3,982.6 2232.5,964.3 2233.3,984.2 2234.2,980.9 2235.4,1002.9 2236.1,978.6 2237.1,980.6 2238.0,960.2 2238.8,971.5 2239.9,961.1 2240.9,960.2 2241.5,994.3 2242.3,937.4 2243.2,962.1 2243.7,893.2 2244.5,957.7 2245.6,930.8 2246.6,971.9 2247.5,937.9 2248.5,950.3 2249.2,932.0 2250.1,953.9 2251.2,947.6 2252.1,990.3 2252.9,944.6 2254.1,959.6 2255.2,941.6 2256.1,919.4 2256.8,948.7 2257.6,941.6 2258.7,959.8 2259.2,937.4 2260.4,897.0 2261.2,953.2 2261.9,946.7 2262.7,964.5 2263.5,954.0 2264.2,1010.4 2265.1,962.2 2266.5,944.1 2267.2,972.5 2268.5,963.8 2269.9,990.9 2270.4,960.9 2271.5,971.8 2272.2,943.3 2272.8,974.9 2273.6,964.5 2274.8,979.4 2275.6,998.3 2276.5,970.9 2277.7,960.5 2278.5,989.2 2279.6,978.7 2280.8,992.0 2281.5,1012.4 2282.2,975.9 2283.1,992.2 2283.9,974.0 2284.6,948.1 2285.3,989.3 2286.4,979.2 2287.2,1005.9 2287.7,979.0 2288.4,984.7 2289.2,978.7 2290.1,958.4 2290.7,985.3 2291.6,982.1 2292.7,985.9 2293.2,1016.2 2293.8,976.0 2294.9,982.7 2296.3,938.9 2297.1,974.0 2298.2,962.3 2299.2,982.2 2299.9,956.4 2300.7,964.9 2301.8,930.8 2302.5,961.0 2303.6,954.8 2304.6,956.1 2305.3,988.3 2306.1,948.3 2307.2,958.5 2308.2,916.0 2308.9,950.3 2309.8,941.5 2310.8,956.9 2311.4,940.2 2312.3,950.2 2313.6,925.1 2314.1,959.4 2314.9,945.0 2315.8,966.6 2317.0,996.6 2317.7,955.0 2318.7,980.0 2319.9,944.1 2320.6,979.9 2321.6,965.8 2322.5,1000.4 2323.4,957.2 2324.1,974.3 2325.1,929.5 2325.9,974.8 2326.8,957.3 2327.6,975.8 2328.5,963.6 2329.1,999.0 2329.9,968.9 2331.2,959.6 2332.0,980.8 2333.0,972.3 2334.0,977.5 2334.9,1017.3 2335.6,965.4 2336.5,980.4 2337.7,921.2 2338.2,974.3 2339.3,961.5 2340.2,966.1 2341.2,987.4 2341.8,966.4 2342.6,975.1 2343.6,970.2 2344.1,954.5 2344.8,977.0 2345.6,971.1 2346.4,978.1 2347.0,1012.4 2347.9,958.6 2348.8,960.1 2349.6,909.6 2350.1,950.1 2350.9,928.6 2351.9,936.8 2352.7,948.3 2353.5,928.5 2355.0,897.0 2355.5,940.1 2356.6,938.5 2357.6,950.7 2358.2,999.0 2358.8,944.4 2360.0,955.6 2360.9,950.3 2361.9,923.4 2362.4,956.4 2363.5,946.9 2364.8,971.9 2365.7,945.0 2366.9,962.9 2367.7,913.9 2368.3,972.1 2369.4,959.0 2370.5,1007.3 2371.4,970.1 2372.5,983.6 2373.4,967.4 2374.2,980.4 2375.1,975.7 2376.0,1002.4 2376.6,970.4 2377.7,974.0 2378.6,926.9 2379.2,976.6 2380.4,968.6 2382.0,1009.8 2382.7,973.7 2383.7,988.7 2384.6,959.1 2385.2,986.8 2386.2,978.8 2387.7,1013.3 2388.4,970.1 2389.4,974.9 2390.5,960.9 2391.2,923.9 2391.9,967.5 2392.9,959.8 2394.1,984.8 2394.8,964.1 2396.0,967.5 2397.1,948.1 2397.6,969.4 2398.7,958.2 2400.2,1011.0 2401.0,952.0 2402.0,961.5 2402.7,908.4 2403.5,951.7 2404.7,933.7 2405.3,952.1 2405.9,930.4 2406.8,934.4 2407.7,926.6 2408.3,895.3 2409.0,939.7 2410.0,931.2 2411.0,992.1 2411.6,930.6 2412.8,958.6 2413.9,929.1 2414.8,901.0 2415.7,952.5 2416.5,945.9 2417.8,980.5 2418.4,950.4 2419.2,953.1 2420.5,925.1 2421.1,957.7 2422.2,926.0 2423.0,962.1 2424.0,1002.1 2424.0,1002.6"/>
<text class="lb" x="1334.1" y="1447.5" text-anchor="middle">time [s]</text>
<text class="lb" x="1333.9" y="1524.0" text-anchor="middle">(b)</text>
</g>
<g>
<rect x="610" y="1618" width="4" height="449" fill="#4b515c" fill-opacity="0.172"/>
<rect x="979" y="1618" width="4" height="449" fill="#4b515c" fill-opacity="0.172"/>
<rect x="1348" y="1618" width="4" height="449" fill="#4b515c" fill-opacity="0.172"/>
<rect x="1717" y="1618" width="4" height="449" fill="#4b515c" fill-opacity="0.172"/>
<rect x="2086" y="1618" width="4" height="449" fill="#4b515c" fill-opacity="0.172"/>
<rect x="243" y="1666" width="2181" height="3" fill="#4b515c" fill-opacity="0.172"/>
<rect x="243" y="1865" width="2181" height="4" fill="#4b515c" fill-opacity="0.172"/>
<text class="tk" x="241.5" y="2147.5" text-anchor="middle">0</text>
<rect x="610" y="2043" width="4" height="23" fill="#4b4c4e"/>
<rect x="610" y="1619" width="4" height="23" fill="#4b4c4e"/>
<text class="tk" x="610.5" y="2147.5" text-anchor="middle">5</text>
<rect x="979" y="2043" width="4" height="23" fill="#4b4c4e"/>
<rect x="979" y="1619" width="4" height="23" fill="#4b4c4e"/>
<text class="tk" x="979.5" y="2147.5" text-anchor="middle">10</text>
<rect x="1348" y="2043" width="4" height="23" fill="#4b4c4e"/>
<rect x="1348" y="1619" width="4" height="23" fill="#4b4c4e"/>
<text class="tk" x="1348.5" y="2147.5" text-anchor="middle">15</text>
<rect x="1717" y="2043" width="4" height="23" fill="#4b4c4e"/>
<rect x="1717" y="1619" width="4" height="23" fill="#4b4c4e"/>
<text class="tk" x="1717.5" y="2147.5" text-anchor="middle">20</text>
<rect x="2086" y="2043" width="4" height="23" fill="#4b4c4e"/>
<rect x="2086" y="1619" width="4" height="23" fill="#4b4c4e"/>
<text class="tk" x="2086.5" y="2147.5" text-anchor="middle">25</text>
<rect x="244" y="1666" width="23" height="3" fill="#4b4c4e"/>
<rect x="2400" y="1666" width="23" height="3" fill="#4b4c4e"/>
<text class="tk" x="217.8" y="1690.5" text-anchor="end">40</text>
<rect x="244" y="1865" width="23" height="4" fill="#4b4c4e"/>
<rect x="2400" y="1865" width="23" height="4" fill="#4b4c4e"/>
<text class="tk" x="217.8" y="1890.0" text-anchor="end">20</text>
<text class="tk" x="216.0" y="2090.0" text-anchor="end">0</text>
<rect x="241" y="1616" width="2185" height="4" fill="#4b4c4e"/>
<rect x="241" y="2065" width="2185" height="4" fill="#4b4c4e"/>
<rect x="241" y="1616" width="4" height="453" fill="#4b4c4e"/>
<rect x="2422" y="1616" width="4" height="453" fill="#4b4c4e"/>
<polyline fill="none" stroke="#0b72b9" stroke-width="11" stroke-linejoin="round" stroke-linecap="round" shape-rendering="crispEdges" points="243.1,2062.6 243.6,2062.6 244.2,2062.1 245.0,2062.4 245.9,2063.0 246.7,2063.0 247.6,2063.6 248.3,2063.8 249.0,2063.4 249.8,2063.6 250.5,2062.9 251.2,2061.7 251.9,2061.3 252.6,2060.3 253.4,2060.6 254.2,2061.4 255.0,2061.6 255.8,2062.5 256.6,2062.5 257.4,2063.3 258.2,2063.6 258.9,2062.8 259.7,2062.5 260.4,2061.3 261.1,2061.0 261.9,2060.2 262.7,2060.6 263.5,2061.6 264.4,2061.9 265.2,2063.0 266.0,2063.5 266.9,2062.2 267.7,2061.6 268.5,2060.1 269.4,2059.5 270.2,2057.9 271.1,2057.0 272.0,2058.4 272.9,2059.0 273.7,2060.6 274.6,2061.4 275.5,2060.1 276.3,2059.6 277.2,2058.0 278.0,2057.6 278.9,2056.4 279.8,2057.4 280.7,2059.0 281.6,2059.6 282.5,2061.3 283.4,2062.2 284.3,2060.7 285.2,2059.9 286.1,2058.3 287.0,2057.4 287.9,2056.1 288.7,2056.4 289.5,2057.6 290.4,2057.5 291.2,2058.7 292.1,2058.8 292.9,2059.6 293.7,2059.7 294.5,2059.3 295.2,2059.7 296.0,2059.3 296.8,2059.4 297.6,2059.4 298.5,2058.8 299.3,2059.0 300.2,2058.5 301.0,2057.2 301.8,2056.9 302.7,2055.2 303.5,2054.7 304.4,2054.9 305.3,2054.2 306.2,2055.0 307.1,2054.3 308.0,2054.6 308.8,2055.5 309.6,2055.4 310.4,2056.4 311.2,2056.6 312.0,2057.6 312.8,2057.6 313.6,2058.5 314.4,2057.8 315.3,2056.1 316.1,2055.6 317.0,2054.2 317.8,2053.7 318.6,2052.4 319.4,2052.6 320.2,2053.9 321.0,2054.0 321.8,2055.0 322.6,2055.4 323.4,2055.0 324.2,2055.7 325.0,2055.0 325.8,2055.6 326.6,2055.0 327.4,2055.3 328.2,2055.0 329.0,2054.1 329.8,2054.2 330.7,2052.8 331.5,2052.6 332.3,2053.5 333.1,2053.2 333.9,2054.5 334.6,2054.5 335.4,2055.3 336.3,2055.0 337.2,2053.8 338.1,2053.7 338.9,2052.8 339.8,2052.8 340.7,2051.7 341.5,2052.2 342.4,2054.1 343.3,2054.5 344.1,2054.3 344.9,2055.0 345.8,2054.3 346.6,2055.4 347.5,2054.6 348.3,2055.5 349.1,2054.7 350.0,2055.2 350.9,2054.4 351.8,2052.8 352.7,2052.2 353.6,2050.7 354.5,2050.0 355.3,2050.2 356.1,2049.2 357.0,2049.8 357.8,2049.0 358.7,2049.7 359.5,2049.1 360.4,2050.1 361.3,2052.2 362.2,2052.7 363.1,2054.4 363.9,2053.4 364.7,2051.3 365.5,2050.8 366.3,2048.7 367.1,2048.0 367.9,2045.6 368.8,2044.9 369.6,2043.4 370.3,2042.8 371.0,2043.5 371.7,2042.7 372.4,2043.0 373.2,2045.0 373.9,2045.8 374.7,2048.3 375.5,2049.1 376.3,2051.3 377.2,2050.7 378.0,2049.5 378.9,2049.4 379.8,2047.5 380.6,2047.5 381.5,2046.0 382.4,2046.1 383.3,2044.5 384.1,2044.2 385.0,2043.6 385.9,2042.0 386.8,2041.9 387.7,2040.1 388.6,2039.8 389.5,2042.1 390.4,2043.6 391.3,2046.4 392.2,2047.8 393.1,2050.0 393.9,2049.6 394.6,2047.6 395.4,2047.6 396.2,2045.8 397.0,2045.1 397.8,2045.8 398.7,2045.2 399.5,2045.9 400.4,2045.5 401.2,2046.5 402.0,2045.9 402.9,2046.8 403.7,2046.6 404.5,2045.3 405.2,2044.9 406.0,2043.1 406.7,2042.3 407.6,2044.4 408.4,2045.5 409.3,2048.3 410.1,2049.2 411.0,2051.5 411.8,2050.9 412.7,2048.6 413.5,2048.2 414.4,2046.1 415.2,2045.8 416.0,2044.2 416.9,2041.5 417.7,2039.9 418.5,2037.0 419.4,2035.1 420.2,2037.6 421.1,2039.1 421.9,2041.9 422.7,2043.5 423.5,2043.1 424.3,2043.7 425.1,2042.7 425.9,2043.5 426.7,2042.7 427.5,2043.1 428.3,2042.6 429.2,2039.5 430.0,2037.5 430.9,2033.8 431.7,2031.5 432.5,2034.6 433.4,2036.5 434.2,2040.0 435.1,2042.5 435.8,2041.0 436.5,2041.0 437.2,2038.9 437.9,2038.4 438.8,2040.4 439.6,2041.0 440.5,2043.3 441.4,2044.2 442.3,2040.3 443.2,2037.6 444.0,2033.8 444.7,2033.3 445.4,2034.1 446.1,2033.0 446.8,2033.3 447.7,2033.3 448.5,2032.1 449.3,2032.3 450.2,2031.2 451.1,2033.3 451.9,2037.0 452.8,2038.7 453.7,2041.9 454.5,2040.1 455.3,2037.5 456.1,2036.1 456.9,2033.3 457.8,2032.3 458.6,2029.1 459.4,2027.8 460.2,2025.1 461.0,2023.6 461.8,2026.9 462.7,2029.2 463.5,2032.9 464.3,2034.9 465.2,2038.5 466.0,2041.3 466.9,2038.8 467.7,2037.4 468.6,2034.2 469.5,2032.7 470.3,2029.8 471.2,2028.2 472.1,2025.2 472.9,2023.7 473.8,2020.8 474.6,2019.2 475.4,2021.5 476.1,2022.5 476.9,2025.4 477.6,2026.4 478.3,2028.7 479.2,2030.2 480.1,2030.7 481.0,2032.4 481.9,2033.0 482.8,2034.3 483.6,2032.5 484.3,2029.7 485.0,2028.5 485.8,2025.7 486.5,2024.0 487.3,2026.3 488.0,2027.1 488.8,2030.1 489.5,2031.4 490.4,2029.3 491.2,2028.3 492.1,2025.5 492.9,2024.3 493.6,2027.1 494.4,2029.0 495.2,2032.4 495.9,2034.5 496.7,2032.1 497.5,2031.0 498.3,2028.1 499.1,2026.9 499.9,2024.6 500.7,2025.4 501.5,2027.7 502.2,2028.3 503.0,2030.0 503.8,2030.6 504.6,2029.8 505.5,2030.9 506.3,2030.4 507.1,2027.5 507.8,2025.8 508.5,2022.6 509.3,2020.9 510.0,2018.0 510.8,2019.8 511.5,2022.6 512.3,2023.7 513.1,2026.8 513.8,2028.4 514.7,2023.8 515.5,2019.9 516.4,2015.4 517.2,2015.7 518.1,2017.4 518.9,2017.5 519.8,2018.8 520.5,2017.7 521.2,2015.0 521.9,2014.4 522.6,2012.4 523.4,2013.8 524.2,2016.7 525.0,2018.3 525.8,2014.7 526.5,2012.7 527.2,2009.0 528.0,2006.7 528.7,2003.1 529.5,2006.2 530.2,2010.5 531.0,2013.1 531.7,2016.7 532.5,2015.0 533.3,2012.1 534.1,2010.6 534.9,2008.0 535.8,2012.4 536.7,2017.9 537.6,2021.7 538.5,2026.6 539.2,2024.7 539.9,2021.2 540.7,2019.5 541.4,2016.4 542.1,2014.4 542.9,2013.3 543.6,2011.2 544.4,2010.9 545.1,2008.8 545.8,2007.7 546.7,2011.3 547.5,2013.5 548.3,2017.3 549.1,2019.5 549.9,2023.5 550.8,2026.3 551.5,2022.3 552.2,2019.1 552.9,2014.4 553.7,2011.0 554.5,2012.8 555.3,2013.1 556.1,2014.7 556.9,2011.6 557.7,2007.3 558.5,2004.8 559.3,2000.9 560.2,2004.1 561.1,2008.3 562.0,2010.6 562.9,2014.6 563.7,2016.1 564.5,2016.6 565.4,2018.6 566.2,2019.2 567.1,2014.6 567.9,2011.0 568.8,2006.0 569.6,2002.8 570.5,1998.2 571.4,2002.0 572.3,2007.0 573.2,2010.5 574.1,2015.3 574.7,2013.2 575.4,2010.0 576.1,2008.1 576.8,2010.2 577.6,2011.0 578.3,2013.6 579.1,2014.4 579.9,2016.6 580.7,2013.0 581.6,2008.3 582.4,2004.8 583.1,2007.5 583.8,2009.3 584.5,2012.6 585.2,2014.6 586.0,2011.8 586.7,2010.0 587.5,2007.2 588.4,2010.2 589.3,2014.6 590.2,2017.4 591.1,2021.3 591.8,2017.5 592.5,2012.3 593.3,2008.6 594.0,2003.7 594.8,1999.8 595.6,2004.3 596.5,2007.5 597.3,2012.3 598.2,2009.0 599.1,2004.4 600.0,2001.2 600.8,2005.3 601.5,2008.3 602.2,2013.1 603.0,2016.2 603.7,2020.3 604.4,2014.5 605.1,2007.3 605.8,2002.1 606.5,1995.4 607.4,1996.3 608.2,1998.6 609.0,1999.3 609.9,2001.3 612.2,1995.4 612.8,2003.7 613.6,2001.5 614.7,2005.0 615.4,2007.8 616.3,2004.5 617.2,2005.5 617.9,2005.7 618.5,2005.1 619.6,2003.7 620.3,2006.3 620.8,2001.5 622.0,2003.8 622.9,1998.2 624.0,1991.8 624.6,2003.9 625.5,2000.8 626.6,2004.8 627.6,2008.4 628.2,2003.2 629.2,2002.1 629.8,2005.6 630.8,2003.9 632.0,2005.5 633.0,2010.7 633.5,2002.4 634.7,2003.8 635.6,2002.6 636.5,1995.5 637.3,2002.5 638.1,2001.1 639.0,2007.7 639.7,2001.3 640.8,2003.5 641.9,1995.3 642.7,2004.0 643.6,1999.5 644.5,2004.1 645.1,2010.3 645.8,1997.6 646.7,2000.5 647.9,1991.5 648.7,1998.4 649.8,1997.0 650.3,2001.5 650.9,1996.2 651.7,1997.7 652.8,1992.3 653.5,1997.1 654.5,1995.7 655.2,2002.4 655.7,1994.9 656.7,1998.1 657.9,1993.7 658.8,1987.8 659.6,1999.0 660.8,1992.1 662.1,1995.4 663.0,2001.4 663.9,1992.9 664.7,1996.7 665.8,1989.2 666.3,1996.2 667.5,1994.6 668.2,1999.0 668.9,1995.3 669.9,1996.1 670.8,1996.3 671.4,1993.2 672.2,1996.7 673.4,1996.3 674.4,2001.3 675.0,1996.1 675.8,1997.0 676.8,1995.8 677.6,1991.8 678.4,1996.7 679.2,1996.4 679.9,2001.4 680.7,1996.3 681.6,1998.6 682.8,1992.5 683.4,1998.5 684.2,1995.9 685.3,1998.5 686.1,2001.1 686.8,1997.3 687.6,1998.8 688.5,1994.4 689.4,1999.7 690.2,1998.6 691.4,2000.7 692.2,2005.9 692.8,1999.8 693.4,1995.8 694.2,1999.0 695.1,1997.1 696.1,1996.9 697.4,1998.7 698.2,1993.5 699.4,1986.1 700.2,1995.2 701.1,1991.3 701.9,1995.2 703.4,2002.8 704.3,1990.1 705.3,1995.1 705.9,1983.0 706.6,1994.7 707.6,1991.4 708.8,1993.8 709.6,1998.4 710.2,1990.9 710.9,1992.8 712.0,1986.5 712.9,1992.9 714.0,1991.0 715.3,1995.1 716.1,1992.4 717.2,1993.7 718.5,1992.2 719.4,1994.9 721.0,1998.7 721.8,1992.7 722.7,1994.4 723.9,1984.6 724.7,1994.4 725.4,1990.5 726.6,1994.1 727.8,1999.0 728.7,1990.3 729.6,1993.1 730.7,1986.5 731.4,1992.7 732.1,1990.7 733.1,1996.6 733.9,1991.8 734.7,1992.9 735.6,1992.7 736.4,1991.6 737.0,1993.1 738.0,1992.8 738.8,1996.1 739.4,1992.3 740.5,1993.0 741.3,1991.7 742.1,1986.8 743.0,1993.5 743.7,1992.0 745.0,1997.6 745.6,1992.3 746.9,1989.1 747.5,1993.5 748.4,1991.7 749.6,1992.5 751.0,1996.3 751.7,1990.6 752.5,1992.0 753.4,1986.7 754.1,1991.7 755.3,1990.3 756.2,1991.2 756.7,1994.3 757.2,1990.3 758.3,1990.6 759.9,1986.4 760.8,1989.8 761.7,1988.2 762.4,1993.7 763.2,1987.5 764.3,1988.6 764.8,1981.8 765.5,1987.9 766.7,1986.9 767.5,1986.7 768.9,1992.4 769.7,1986.5 770.6,1987.7 771.3,1978.8 772.0,1988.9 772.8,1987.5 773.9,1990.2 774.5,1994.8 775.2,1989.2 775.9,1992.3 777.0,1988.1 777.6,1992.7 778.5,1991.3 779.6,1993.2 780.2,1997.1 781.0,1990.3 781.9,1992.3 783.1,1985.9 783.7,1991.8 784.5,1990.6 785.1,1997.1 785.7,1989.9 786.5,1992.3 787.4,1989.1 788.0,1984.9 788.8,1992.4 789.7,1991.5 790.9,1992.4 791.9,1998.5 792.7,1991.2 794.0,1985.4 794.9,1992.7 796.1,1990.3 797.3,1994.9 797.9,1990.4 799.4,1987.3 800.2,1990.8 801.1,1989.2 801.9,1990.1 803.0,1993.4 803.5,1988.5 804.5,1989.7 805.4,1983.3 806.1,1990.2 806.9,1987.8 807.8,1990.7 808.3,1995.9 809.1,1987.4 809.9,1990.2 811.1,1983.3 811.9,1991.1 813.0,1989.8 813.8,1992.0 814.5,1991.7 815.1,1997.1 815.9,1993.3 816.8,1991.0 817.6,1993.3 818.7,1992.6 820.0,1997.3 820.7,1992.0 821.5,1993.6 822.2,1991.7 822.8,1987.8 823.5,1994.0 824.7,1993.1 825.5,1994.5 826.0,2000.1 826.8,1992.7 827.6,1995.0 828.8,1992.4 829.3,1988.2 830.1,1994.4 831.2,1991.9 832.2,1997.6 832.8,1990.9 833.8,1993.2 834.6,1984.1 835.1,1993.3 836.0,1989.3 836.8,1993.3 837.9,1996.9 838.5,1991.3 839.2,1994.0 840.3,1988.5 841.1,1994.5 842.1,1992.1 843.3,1994.9 844.0,2001.9 844.8,1992.3 845.8,1994.3 846.8,1988.5 847.4,1993.1 848.2,1991.2 849.2,1991.5 850.0,1994.5 850.9,1989.4 852.0,1984.8 852.6,1991.3 853.5,1990.4 854.6,1992.7 855.4,1992.2 856.2,1997.0 857.3,1990.7 857.9,1993.6 858.9,1992.0 860.0,1991.6 860.7,1990.1 861.4,1995.7 862.2,1988.5 863.3,1989.9 863.8,1979.6 864.4,1989.3 865.6,1986.3 866.3,1991.1 866.9,1987.5 867.8,1989.3 869.0,1989.6 869.5,1988.9 870.3,1990.5 871.2,1988.9 872.3,1991.3 872.8,1995.1 873.4,1987.0 874.2,1990.1 874.9,1978.5 875.5,1990.7 876.6,1985.5 877.4,1991.8 878.9,1997.1 879.8,1988.5 880.9,1986.4 881.4,1993.1 882.2,1990.2 883.2,1993.6 884.1,1998.0 884.9,1989.8 886.1,1985.7 886.7,1991.1 887.8,1989.3 888.6,1989.2 889.8,1994.4 890.4,1985.5 891.2,1988.8 892.2,1983.5 892.7,1976.0 893.4,1992.2 894.2,1987.4 895.1,1994.5 896.3,2002.7 897.1,1991.5 898.0,1993.4 898.7,1989.6 899.4,1990.7 900.0,1984.6 900.0,1992.5 900.9,1985.8 901.8,1988.5 903.2,1983.2 904.1,1986.4 904.9,1988.8 905.6,1984.9 906.8,1986.9 908.0,1984.0 909.4,1979.9 910.2,1986.9 911.3,1983.4 912.2,1991.8 912.8,1982.6 914.0,1984.8 914.7,1981.2 915.4,1977.2 916.3,1982.7 917.5,1980.2 918.2,1986.6 919.0,1979.4 919.9,1981.5 920.6,1974.1 921.4,1982.1 922.4,1981.3 923.9,1987.8 924.6,1981.9 925.4,1983.4 926.8,1978.1 927.6,1984.9 928.8,1983.1 929.7,1991.0 930.4,1983.8 931.2,1987.3 932.5,1979.9 933.2,1987.3 934.3,1983.1 935.7,1991.9 936.3,1981.9 937.2,1985.6 938.6,1975.8 939.4,1985.1 940.4,1981.8 941.4,1989.6 942.3,1983.7 943.2,1985.4 943.8,1980.5 944.6,1985.1 945.7,1982.6 947.1,1988.9 947.7,1982.0 948.9,1982.3 949.5,1977.0 950.0,1981.5 950.8,1979.8 951.9,1980.2 952.8,1983.2 953.5,1979.2 954.5,1979.7 955.2,1975.1 955.8,1979.7 957.1,1978.3 957.9,1979.5 958.9,1985.9 959.7,1977.3 960.9,1971.6 961.6,1976.8 962.6,1975.0 964.1,1979.6 964.6,1972.8 965.4,1974.3 966.9,1966.7 967.8,1974.4 968.7,1972.1 969.8,1980.2 970.5,1973.1 971.5,1975.5 972.6,1970.6 973.3,1976.0 974.2,1974.0 975.2,1976.3 975.8,1979.4 976.7,1973.4 977.6,1975.6 979.1,1968.1 979.7,1976.2 980.7,1975.1 981.7,1981.6 982.5,1976.5 983.3,1978.2 984.4,1974.4 985.0,1978.8 986.0,1977.0 986.8,1979.2 987.4,1985.7 988.0,1974.8 988.9,1980.1 990.4,1964.9 991.3,1979.0 992.1,1976.2 993.4,1984.0 994.1,1978.6 995.1,1981.6 996.6,1979.1 997.5,1982.9 998.3,1981.9 999.4,1989.1 999.9,1980.6 1000.8,1982.2 1001.7,1978.8 1002.3,1975.4 1002.8,1977.1 1004.0,1973.3 1004.7,1977.8 1005.5,1967.7 1006.8,1956.2 1007.7,1973.0 1008.9,1969.5 1009.9,1975.4 1010.7,1984.6 1011.3,1973.4 1012.3,1976.2 1012.8,1971.5 1013.4,1975.0 1014.2,1972.5 1015.3,1972.2 1016.1,1977.8 1016.9,1968.4 1018.5,1956.0 1019.4,1968.8 1020.4,1964.6 1021.8,1973.2 1022.6,1967.7 1023.3,1970.5 1024.4,1970.5 1025.0,1965.5 1025.9,1973.6 1026.8,1971.9 1027.8,1983.5 1028.6,1971.2 1029.7,1975.4 1030.7,1966.5 1031.5,1973.4 1033.1,1974.9 1033.9,1971.9 1034.7,1972.7 1035.4,1972.2 1036.4,1966.8 1037.2,1975.3 1038.8,1984.6 1039.6,1975.0 1040.5,1979.4 1041.4,1976.6 1042.6,1972.0 1043.4,1978.8 1044.2,1974.7 1044.8,1981.5 1045.6,1974.2 1046.8,1977.3 1047.8,1968.2 1048.4,1978.2 1049.2,1976.6 1050.2,1979.4 1051.0,1985.7 1051.7,1979.0 1052.9,1979.7 1053.4,1977.1 1054.1,1979.0 1055.2,1976.3 1056.2,1977.8 1056.7,1981.0 1057.2,1972.2 1058.3,1962.6 1059.2,1972.3 1060.0,1970.1 1061.1,1969.3 1062.0,1975.1 1062.8,1968.4 1064.0,1961.1 1064.8,1972.1 1065.9,1966.6 1066.8,1973.6 1068.0,1980.6 1068.6,1967.1 1069.8,1971.4 1070.5,1960.7 1071.0,1970.7 1072.0,1965.5 1072.7,1969.2 1073.5,1964.7 1074.1,1971.9 1074.7,1964.1 1075.5,1968.2 1076.2,1959.6 1077.0,1969.7 1078.0,1969.1 1079.4,1977.5 1080.2,1971.5 1081.3,1972.6 1081.8,1969.1 1082.7,1973.5 1083.5,1972.5 1085.1,1979.5 1085.7,1972.4 1086.7,1976.7 1087.5,1966.9 1088.2,1977.2 1089.0,1974.0 1090.2,1978.0 1090.8,1983.7 1091.5,1975.8 1092.7,1978.6 1093.5,1977.3 1094.0,1971.7 1094.7,1979.9 1095.8,1975.6 1096.5,1984.9 1097.1,1975.4 1097.9,1978.7 1099.2,1970.5 1100.0,1977.3 1101.1,1974.2 1102.1,1980.1 1103.0,1973.0 1103.8,1975.5 1104.9,1968.2 1105.4,1975.5 1106.4,1971.7 1107.8,1980.9 1108.7,1970.9 1109.8,1972.5 1110.6,1962.9 1111.4,1970.5 1112.3,1966.1 1113.2,1968.3 1114.0,1975.4 1114.8,1963.4 1115.8,1967.2 1117.1,1955.9 1117.7,1965.8 1119.2,1969.1 1119.7,1964.3 1120.9,1966.0 1121.8,1966.7 1122.4,1964.6 1123.3,1968.6 1124.9,1972.7 1125.7,1967.1 1126.8,1969.3 1127.6,1962.7 1128.3,1970.5 1129.2,1968.8 1130.6,1978.1 1131.3,1967.7 1132.2,1971.9 1133.5,1961.7 1134.3,1974.2 1135.4,1970.2 1136.7,1982.3 1137.4,1972.2 1138.2,1975.9 1139.0,1973.9 1139.5,1967.1 1140.2,1976.0 1141.2,1973.0 1142.2,1976.2 1143.1,1983.7 1143.7,1973.1 1144.8,1974.0 1146.0,1964.1 1146.8,1974.1 1147.8,1970.8 1148.4,1978.8 1149.0,1972.2 1149.9,1973.8 1150.7,1974.1 1151.3,1970.3 1151.8,1973.3 1152.8,1972.5 1153.6,1979.8 1154.4,1970.3 1155.3,1972.6 1156.5,1956.8 1157.1,1971.5 1158.0,1965.4 1159.2,1970.0 1159.8,1977.2 1160.4,1965.9 1161.4,1971.2 1162.3,1966.8 1163.0,1960.0 1163.9,1970.9 1165.1,1968.1 1166.0,1978.7 1166.7,1967.1 1167.6,1970.2 1168.7,1960.9 1169.5,1967.5 1170.7,1964.6 1171.5,1971.0 1172.3,1963.6 1173.1,1964.5 1174.4,1948.8 1175.2,1968.5 1176.1,1963.1 1177.0,1971.8 1177.6,1980.1 1178.3,1967.2 1179.3,1968.5 1180.4,1963.4 1181.3,1968.4 1182.1,1968.2 1183.3,1972.6 1184.2,1967.2 1184.9,1969.0 1186.1,1960.9 1186.9,1970.8 1187.7,1968.3 1188.7,1976.5 1189.4,1969.7 1190.3,1972.7 1191.8,1962.5 1192.6,1975.5 1193.7,1971.0 1194.7,1984.0 1195.3,1971.8 1196.5,1977.3 1197.9,1965.2 1198.8,1976.9 1200.0,1970.4 1200.0,1981.3 1200.6,1972.0 1201.6,1977.0 1202.4,1972.8 1203.2,1970.7 1204.1,1976.9 1204.9,1974.0 1205.7,1983.6 1206.5,1973.0 1207.4,1975.7 1208.9,1966.9 1209.6,1974.4 1210.8,1969.3 1211.7,1978.3 1212.3,1967.0 1213.2,1971.0 1214.3,1963.6 1214.9,1955.1 1215.7,1969.7 1216.5,1965.5 1217.9,1977.4 1218.7,1966.0 1219.5,1971.1 1220.8,1961.5 1221.6,1971.3 1222.5,1966.3 1223.4,1971.4 1223.9,1976.6 1224.7,1965.7 1226.0,1959.2 1226.6,1967.6 1227.5,1964.9 1228.4,1965.5 1228.9,1972.9 1229.5,1963.8 1230.5,1965.0 1231.3,1953.6 1232.1,1966.3 1233.0,1965.7 1233.9,1967.6 1234.9,1979.4 1235.7,1968.0 1236.8,1973.1 1238.2,1961.1 1238.8,1973.6 1239.9,1968.5 1240.9,1980.7 1241.4,1969.0 1242.2,1973.7 1243.5,1965.5 1244.4,1972.9 1245.2,1970.5 1246.0,1972.2 1246.8,1978.5 1247.6,1971.1 1248.7,1964.1 1249.5,1973.4 1250.5,1972.5 1251.5,1975.0 1252.3,1984.5 1252.8,1974.1 1253.7,1977.5 1254.5,1975.3 1255.2,1968.6 1255.8,1974.8 1256.8,1971.8 1257.8,1972.0 1258.5,1978.4 1259.0,1969.5 1260.2,1972.2 1261.4,1959.4 1262.1,1970.1 1263.1,1966.1 1264.1,1973.9 1264.8,1964.1 1266.0,1966.4 1266.9,1955.3 1267.6,1964.9 1268.6,1963.1 1269.8,1972.2 1270.4,1962.5 1271.5,1964.3 1272.7,1953.5 1273.5,1965.9 1274.2,1962.5 1275.8,1975.0 1276.7,1962.3 1277.6,1968.0 1278.4,1962.4 1279.1,1954.7 1279.7,1966.2 1280.7,1960.1 1281.7,1970.3 1282.2,1960.4 1283.2,1965.3 1284.1,1954.8 1284.8,1966.0 1285.9,1964.3 1287.2,1972.7 1287.9,1965.3 1288.7,1969.2 1289.8,1960.9 1290.3,1971.0 1291.1,1966.6 1292.1,1972.5 1292.9,1978.4 1293.7,1969.1 1294.5,1971.7 1296.1,1965.0 1296.9,1973.2 1298.1,1971.7 1299.0,1977.2 1299.7,1972.2 1300.5,1973.2 1301.5,1968.9 1302.0,1973.8 1303.2,1969.8 1304.0,1974.1 1305.2,1980.1 1305.7,1966.7 1306.6,1972.7 1308.0,1958.3 1308.8,1970.5 1309.6,1964.9 1310.7,1968.4 1311.2,1974.7 1311.9,1965.7 1312.7,1968.7 1313.7,1959.2 1314.6,1969.0 1315.7,1965.3 1316.9,1977.1 1317.5,1964.7 1318.3,1970.0 1319.3,1964.4 1320.1,1959.9 1320.9,1965.9 1322.6,1968.7 1323.4,1963.8 1324.7,1957.7 1325.4,1966.7 1326.5,1961.8 1327.5,1968.7 1328.3,1976.9 1329.1,1961.8 1329.9,1965.1 1331.2,1950.6 1331.9,1963.9 1332.7,1959.0 1333.7,1962.5 1334.4,1970.6 1335.1,1959.7 1336.1,1966.1 1336.7,1953.4 1337.4,1967.3 1338.2,1963.8 1339.3,1969.7 1340.4,1982.6 1341.2,1968.5 1342.9,1966.1 1343.7,1972.4 1344.8,1968.8 1346.1,1972.8 1347.0,1967.9 1347.8,1969.4 1348.6,1961.9 1349.4,1970.5 1350.6,1967.7 1351.3,1978.4 1352.0,1969.0 1353.2,1972.1 1353.9,1964.6 1354.6,1971.8 1355.7,1968.2 1356.6,1971.1 1357.5,1977.5 1358.1,1966.3 1359.0,1968.7 1359.9,1965.1 1360.7,1954.4 1361.4,1966.4 1362.9,1974.5 1363.5,1963.9 1364.7,1965.4 1365.9,1956.5 1366.6,1966.2 1367.5,1962.8 1368.4,1966.9 1369.7,1972.7 1370.5,1962.5 1372.1,1954.4 1372.7,1962.6 1373.7,1962.0 1375.0,1967.9 1375.6,1961.7 1376.7,1965.1 1377.8,1955.0 1378.3,1967.3 1379.5,1961.0 1380.5,1976.9 1381.1,1961.4 1382.3,1966.7 1383.5,1953.8 1384.1,1966.5 1385.3,1965.6 1386.7,1976.3 1387.5,1965.4 1388.5,1967.6 1389.6,1960.3 1390.2,1967.8 1391.1,1966.4 1392.0,1967.9 1392.7,1974.6 1393.5,1967.6 1394.4,1969.3 1395.6,1963.8 1396.2,1970.3 1397.8,1975.9 1398.6,1966.5 1399.8,1969.9 1401.0,1958.2 1401.8,1968.4 1402.7,1966.2 1403.8,1976.5 1404.3,1967.1 1405.2,1971.5 1406.0,1968.2 1406.5,1958.8 1407.0,1971.9 1408.2,1966.6 1408.9,1972.4 1409.9,1979.0 1410.7,1965.2 1411.8,1968.9 1412.7,1958.9 1413.5,1967.7 1414.3,1964.5 1415.6,1972.8 1416.3,1965.4 1417.1,1968.5 1418.4,1960.3 1419.3,1968.0 1420.3,1966.5 1420.8,1975.3 1421.5,1966.0 1422.6,1968.7 1423.7,1958.0 1424.3,1968.6 1425.5,1964.8 1427.0,1975.8 1427.7,1966.4 1428.5,1970.1 1429.7,1961.4 1430.6,1972.2 1431.7,1968.3 1433.0,1980.5 1433.5,1970.1 1434.3,1973.4 1435.8,1964.9 1436.6,1972.7 1437.7,1969.6 1438.7,1976.5 1439.2,1968.2 1440.1,1969.6 1441.0,1966.7 1441.9,1960.5 1442.7,1968.6 1443.8,1968.1 1444.4,1975.0 1444.9,1968.1 1446.0,1971.4 1447.6,1962.3 1448.3,1972.1 1449.3,1965.2 1450.0,1979.0 1450.6,1963.8 1451.4,1969.2 1452.5,1961.4 1453.4,1966.4 1454.1,1953.4 1454.7,1964.4 1455.6,1962.9 1456.5,1968.8 1457.4,1962.7 1458.2,1956.2 1459.0,1962.9 1460.0,1961.2 1460.8,1963.1 1461.4,1971.8 1462.1,1961.6 1463.3,1965.8 1463.8,1953.2 1464.6,1965.8 1465.9,1958.2 1467.1,1965.6 1467.9,1973.8 1468.7,1954.9 1469.6,1962.0 1471.1,1944.4 1471.8,1962.9 1473.0,1961.8 1474.4,1974.0 1475.1,1966.0 1476.2,1969.2 1476.8,1965.5 1477.7,1968.8 1478.7,1968.0 1479.3,1973.8 1479.8,1967.1 1481.0,1969.9 1481.7,1960.3 1482.2,1970.3 1483.1,1966.8 1484.1,1971.1 1485.3,1980.5 1486.1,1967.5 1487.0,1971.3 1488.2,1958.1 1488.7,1971.6 1489.8,1969.0 1490.6,1972.1 1491.4,1976.5 1492.2,1970.0 1493.1,1973.1 1494.7,1968.4 1495.5,1973.5 1497.1,1977.2 1497.8,1969.2 1498.7,1973.3 1500.0,1964.8 1500.0,1974.4 1500.7,1968.5 1501.9,1972.9 1502.9,1975.9 1503.5,1964.9 1504.3,1969.4 1505.7,1955.6 1506.4,1967.4 1507.4,1961.3 1508.9,1970.9 1509.6,1961.7 1510.4,1967.0 1511.7,1956.7 1512.3,1967.4 1513.5,1960.5 1514.6,1975.4 1515.4,1959.7 1516.6,1964.3 1517.4,1951.2 1518.3,1964.3 1519.1,1960.4 1520.3,1967.9 1520.9,1960.1 1521.7,1962.7 1522.7,1956.6 1523.6,1962.9 1524.6,1961.4 1526.0,1968.0 1526.7,1960.9 1527.8,1962.3 1528.9,1952.8 1529.7,1962.6 1530.8,1959.9 1532.0,1973.3 1532.5,1959.6 1533.4,1967.3 1534.9,1952.0 1535.5,1968.8 1536.6,1965.0 1538.2,1978.7 1538.9,1967.4 1539.6,1970.3 1540.6,1964.6 1541.2,1969.5 1542.0,1969.8 1543.1,1968.3 1543.8,1974.9 1544.5,1967.7 1545.4,1967.8 1546.3,1966.3 1547.1,1957.9 1547.7,1967.9 1548.7,1964.7 1549.5,1974.3 1550.3,1965.3 1551.1,1966.9 1552.3,1958.6 1553.1,1967.2 1554.0,1964.9 1555.2,1967.3 1555.7,1974.5 1556.2,1963.6 1557.3,1966.4 1558.1,1956.1 1559.0,1966.0 1559.9,1962.1 1561.4,1970.2 1562.1,1961.2 1563.1,1962.8 1564.1,1952.1 1564.9,1964.2 1566.1,1960.8 1567.1,1976.1 1567.7,1962.1 1568.8,1965.1 1570.1,1958.5 1571.0,1964.9 1571.9,1960.3 1573.1,1969.3 1573.9,1958.2 1574.8,1964.0 1575.5,1948.3 1576.4,1965.0 1577.4,1962.0 1578.4,1966.1 1579.1,1976.0 1579.6,1967.0 1580.7,1970.5 1581.2,1963.0 1581.8,1970.5 1582.6,1968.2 1583.7,1970.2 1584.9,1982.2 1585.6,1964.3 1586.4,1970.3 1587.2,1962.2 1587.7,1953.6 1588.2,1969.0 1589.1,1965.8 1590.1,1967.0 1590.9,1972.6 1591.6,1966.9 1592.7,1969.0 1593.4,1960.8 1593.9,1971.5 1594.7,1968.2 1595.9,1975.1 1597.1,1983.9 1597.9,1968.7 1598.7,1973.8 1599.4,1964.0 1599.9,1971.1 1600.9,1966.9 1602.3,1971.7 1603.0,1963.9 1604.0,1966.4 1605.2,1954.4 1605.9,1968.0 1607.0,1964.5 1608.3,1977.4 1608.9,1964.0 1610.1,1965.3 1611.0,1963.1 1611.7,1957.8 1612.2,1963.2 1613.4,1959.6 1614.1,1968.1 1615.0,1957.6 1615.8,1961.1 1616.9,1949.6 1617.6,1961.6 1618.8,1959.4 1620.1,1969.0 1620.7,1962.2 1621.5,1964.7 1622.6,1962.8 1623.5,1965.6 1624.5,1964.9 1625.0,1973.4 1625.6,1963.0 1626.4,1967.8 1627.6,1960.1 1628.3,1953.9 1628.8,1967.2 1629.8,1962.3 1630.7,1971.1 1631.2,1963.3 1632.3,1968.8 1633.2,1965.0 1634.0,1959.9 1634.6,1971.4 1635.8,1968.1 1637.2,1981.8 1638.0,1968.4 1638.9,1973.0 1640.0,1962.9 1640.7,1972.5 1641.6,1969.9 1642.9,1975.2 1643.5,1970.2 1644.3,1971.9 1645.3,1970.6 1646.1,1965.4 1646.7,1972.6 1647.9,1970.1 1648.6,1978.0 1649.2,1969.4 1649.9,1973.3 1651.2,1968.5 1651.8,1963.7 1652.6,1970.7 1653.7,1965.3 1655.1,1975.6 1655.9,1962.5 1656.9,1967.9 1658.0,1950.0 1658.6,1967.5 1659.4,1960.0 1660.4,1966.4 1661.2,1969.6 1661.9,1965.4 1662.8,1966.8 1663.7,1966.4 1664.4,1968.1 1665.3,1965.8 1665.9,1973.4 1666.6,1963.7 1667.6,1965.1 1668.4,1960.5 1669.7,1950.2 1670.2,1962.7 1671.2,1958.2 1672.1,1966.4 1672.9,1959.1 1673.7,1963.1 1675.0,1951.8 1675.7,1965.1 1676.6,1962.4 1677.8,1975.5 1678.5,1965.4 1679.4,1968.2 1680.7,1962.8 1681.3,1966.6 1682.4,1965.2 1683.8,1971.1 1684.4,1961.6 1685.3,1963.4 1686.7,1948.0 1687.4,1964.2 1688.3,1960.5 1689.4,1964.9 1690.0,1974.2 1690.7,1965.3 1691.7,1967.4 1692.7,1962.7 1693.5,1969.0 1694.7,1966.6 1696.0,1975.3 1696.8,1966.0 1697.6,1967.0 1698.4,1958.1 1699.0,1966.3 1699.8,1962.7 1701.0,1965.7 1701.7,1969.5 1702.4,1962.5 1703.5,1964.3 1704.1,1957.1 1705.0,1964.3 1705.7,1960.7 1706.7,1964.5 1707.5,1971.1 1708.3,1955.1 1709.1,1958.5 1710.1,1951.5 1710.7,1942.7 1711.4,1956.3 1712.5,1954.2 1713.2,1964.2 1713.9,1956.2 1714.9,1959.6 1716.4,1952.4 1717.0,1961.5 1718.1,1959.1 1718.9,1969.0 1719.7,1958.9 1720.7,1960.9 1721.6,1955.0 1722.3,1960.1 1723.1,1958.3 1724.4,1964.2 1724.9,1956.8 1726.1,1958.7 1727.3,1944.4 1728.0,1961.9 1729.1,1960.5 1730.2,1965.5 1731.0,1978.5 1731.8,1963.4 1732.6,1967.3 1734.1,1960.1 1734.9,1968.6 1736.0,1967.1 1737.1,1972.6 1737.6,1966.8 1738.7,1969.3 1739.5,1963.4 1740.3,1969.8 1741.3,1968.5 1742.7,1974.3 1743.5,1968.8 1744.5,1969.8 1745.2,1965.2 1745.7,1969.8 1746.9,1967.2 1747.9,1969.3 1748.4,1977.4 1749.0,1965.0 1750.0,1967.0 1750.8,1962.8 1751.3,1952.7 1752.1,1962.8 1752.8,1958.7 1754.1,1964.1 1754.9,1955.9 1755.6,1959.5 1756.9,1948.6 1757.6,1960.6 1758.7,1955.4 1759.8,1966.3 1760.5,1956.9 1761.3,1959.6 1762.5,1952.4 1763.3,1959.3 1764.3,1958.2 1765.5,1965.8 1766.0,1957.1 1767.0,1961.2 1767.9,1949.9 1768.7,1960.7 1769.7,1957.7 1770.8,1967.3 1771.7,1958.0 1772.8,1961.1 1774.1,1948.7 1775.0,1963.4 1776.1,1957.6 1777.6,1971.6 1778.3,1959.9 1779.4,1966.7 1780.1,1957.4 1780.8,1966.9 1781.9,1965.8 1783.0,1967.4 1783.8,1973.9 1784.3,1966.6 1785.4,1968.2 1786.6,1960.3 1787.3,1968.7 1788.1,1964.0 1789.0,1975.0 1789.8,1963.1 1791.0,1967.0 1792.3,1953.3 1793.1,1966.2 1794.2,1962.5 1795.5,1972.0 1796.1,1965.5 1797.1,1968.1 1797.9,1965.1 1798.5,1968.3 1799.3,1963.5 1800.0,1958.6 1800.0,1972.1 1800.7,1964.2 1801.5,1965.8 1802.3,1961.9 1803.5,1964.3 1804.1,1955.0 1804.6,1963.3 1805.7,1958.7 1806.5,1965.9 1807.2,1957.4 1808.2,1961.5 1809.4,1949.2 1810.3,1961.5 1811.5,1958.1 1812.2,1969.8 1813.0,1957.9 1813.8,1960.5 1815.1,1952.9 1815.7,1959.6 1816.6,1957.5 1818.2,1961.7 1819.0,1956.5 1820.0,1959.2 1820.8,1956.1 1821.4,1949.0 1822.1,1961.8 1823.0,1959.7 1823.8,1963.7 1824.4,1973.5 1824.9,1961.3 1826.1,1964.2 1826.8,1958.3 1827.5,1964.3 1828.7,1963.7 1830.0,1969.0 1830.9,1963.4 1832.1,1964.8 1833.0,1953.8 1833.7,1966.6 1834.7,1965.1 1836.0,1975.2 1836.8,1969.5 1838.0,1972.0 1839.0,1970.4 1839.8,1973.1 1840.7,1972.5 1841.5,1974.1 1842.2,1979.4 1843.1,1970.4 1844.7,1964.5 1845.2,1971.3 1846.4,1969.3 1847.9,1975.6 1848.7,1968.2 1849.6,1968.9 1850.3,1959.2 1850.9,1969.4 1852.0,1966.6 1853.3,1978.5 1854.0,1967.3 1855.1,1969.3 1855.9,1967.7 1856.5,1962.6 1857.3,1968.2 1858.1,1966.4 1859.6,1972.0 1860.3,1965.7 1861.4,1967.8 1862.5,1959.0 1863.3,1967.5 1864.1,1964.2 1865.3,1972.2 1865.8,1963.0 1866.9,1966.2 1867.9,1955.2 1868.5,1966.1 1869.3,1963.7 1870.4,1965.8 1871.4,1973.4 1872.2,1964.2 1873.1,1966.1 1874.4,1956.9 1875.2,1967.9 1876.3,1965.6 1876.8,1974.1 1877.5,1966.3 1878.5,1966.7 1879.6,1961.4 1880.1,1966.0 1880.9,1966.0 1881.8,1965.1 1882.5,1971.9 1883.2,1964.4 1884.4,1964.5 1884.9,1954.9 1885.5,1964.6 1886.6,1961.0 1887.6,1964.7 1888.8,1971.7 1889.4,1963.2 1890.2,1964.7 1890.9,1958.5 1891.6,1964.9 1892.4,1962.5 1893.3,1964.9 1894.7,1973.3 1895.3,1961.8 1896.4,1964.2 1897.4,1954.4 1898.1,1962.7 1899.0,1957.3 1900.7,1966.4 1901.5,1955.5 1902.8,1943.6 1903.4,1960.3 1904.4,1955.8 1905.4,1962.6 1906.7,1970.4 1907.4,1957.3 1908.2,1959.5 1909.1,1952.9 1909.7,1958.5 1910.7,1955.1 1912.0,1962.4 1912.8,1951.7 1914.0,1952.9 1914.8,1941.9 1915.4,1951.9 1916.5,1948.4 1917.7,1956.9 1918.3,1948.8 1919.4,1953.2 1920.1,1944.4 1920.8,1953.3 1921.6,1951.3 1922.8,1953.3 1923.7,1964.6 1924.4,1950.6 1925.3,1954.0 1926.2,1950.0 1927.0,1941.2 1927.6,1955.0 1928.8,1951.7 1929.9,1965.5 1930.5,1953.7 1931.6,1958.9 1932.8,1950.4 1933.4,1962.3 1934.4,1958.4 1935.2,1965.6 1936.1,1975.6 1936.9,1961.5 1938.0,1964.1 1938.8,1955.9 1939.7,1961.6 1940.8,1959.2 1941.7,1963.1 1942.6,1956.2 1943.4,1959.1 1944.5,1947.7 1945.1,1960.1 1946.1,1956.6 1947.8,1966.1 1948.6,1957.9 1949.4,1959.2 1950.2,1954.5 1950.9,1957.7 1952.1,1954.8 1953.4,1959.9 1954.2,1950.0 1955.3,1952.7 1956.2,1939.4 1956.8,1950.7 1957.7,1946.2 1958.6,1949.0 1959.1,1952.1 1959.8,1946.3 1961.0,1948.9 1962.0,1940.1 1962.7,1950.0 1963.7,1948.6 1964.8,1960.9 1965.6,1950.1 1966.7,1954.7 1967.2,1944.4 1968.0,1954.0 1968.9,1951.3 1969.8,1953.1 1970.8,1961.0 1971.5,1950.9 1972.3,1955.0 1972.9,1944.2 1973.8,1957.2 1974.7,1953.1 1975.6,1959.8 1976.7,1968.8 1977.2,1956.7 1978.1,1963.7 1978.9,1959.8 1979.4,1954.6 1980.2,1964.5 1981.4,1961.2 1982.3,1972.2 1982.9,1959.7 1984.1,1963.4 1985.4,1947.5 1986.2,1964.6 1987.2,1960.3 1988.7,1970.4 1989.4,1964.5 1990.6,1966.3 1991.3,1964.7 1991.8,1967.4 1993.0,1966.7 1994.0,1969.3 1994.8,1975.1 1995.4,1964.4 1996.6,1965.2 1997.3,1955.6 1998.2,1961.9 1999.1,1957.5 2000.5,1961.2 2001.4,1955.3 2002.4,1957.0 2003.0,1946.4 2003.5,1958.2 2004.4,1956.5 2005.2,1960.0 2005.9,1968.7 2006.6,1959.3 2007.6,1960.8 2008.3,1958.6 2009.1,1959.8 2009.9,1958.2 2010.8,1958.2 2011.6,1963.0 2012.3,1952.6 2013.4,1956.8 2014.6,1939.9 2015.5,1954.5 2016.3,1951.4 2017.3,1953.2 2017.9,1961.5 2018.5,1954.1 2019.5,1955.2 2020.3,1950.0 2021.2,1956.7 2022.2,1955.5 2023.7,1970.3 2024.4,1955.1 2025.5,1958.3 2026.5,1943.4 2027.1,1959.3 2028.1,1958.0 2029.4,1967.7 2030.3,1960.7 2031.5,1963.6 2032.2,1955.5 2033.0,1964.7 2034.2,1962.6 2035.4,1973.6 2036.3,1962.6 2037.5,1963.7 2038.4,1957.1 2039.1,1962.4 2039.9,1961.7 2041.1,1965.7 2041.8,1961.2 2042.6,1963.3 2043.5,1955.3 2044.3,1964.8 2045.5,1959.0 2046.8,1973.7 2047.4,1958.3 2048.6,1961.7 2050.0,1952.1 2050.9,1958.6 2051.8,1954.9 2052.8,1959.3 2053.5,1953.4 2054.7,1955.6 2055.7,1944.9 2056.5,1956.9 2057.5,1952.9 2059.0,1965.8 2059.6,1955.8 2060.4,1960.4 2061.4,1954.4 2062.0,1960.5 2062.8,1958.0 2064.0,1960.4 2064.7,1965.4 2065.2,1955.7 2066.3,1961.1 2067.1,1948.5 2068.0,1961.6 2069.0,1956.0 2070.2,1962.8 2070.8,1968.6 2071.7,1958.8 2072.7,1962.8 2073.6,1952.4 2074.1,1965.0 2074.9,1959.0 2076.1,1967.9 2076.8,1977.9 2077.4,1958.4 2078.3,1966.5 2079.6,1952.4 2080.1,1963.2 2081.1,1959.4 2082.5,1963.1 2083.2,1958.0 2084.2,1958.9 2084.9,1950.8 2085.6,1959.5 2086.4,1957.6 2087.2,1960.0 2088.7,1972.1 2089.4,1955.8 2090.3,1964.1 2091.4,1946.9 2092.2,1963.0 2093.4,1959.2 2094.7,1969.7 2095.3,1959.2 2096.5,1960.4 2097.9,1952.0 2098.8,1962.1 2100.0,1952.7 2100.1,1972.3 2100.7,1956.3 2101.6,1965.0 2102.4,1954.5 2103.1,1951.4 2103.9,1962.6 2105.0,1957.7 2105.5,1964.8 2106.2,1956.6 2107.4,1960.4 2108.6,1949.5 2109.3,1961.5 2110.1,1958.9 2111.7,1971.4 2112.5,1959.0 2113.4,1961.2 2114.3,1959.3 2115.2,1953.9 2115.9,1959.7 2116.9,1958.1 2118.1,1963.7 2118.9,1957.4 2120.1,1961.4 2120.7,1951.0 2121.6,1963.1 2122.4,1959.1 2123.8,1971.3 2124.7,1962.5 2125.6,1963.8 2126.4,1959.5 2127.1,1963.4 2128.3,1963.0 2129.0,1971.7 2129.7,1961.5 2130.8,1965.3 2132.4,1944.1 2133.0,1965.7 2133.9,1958.8 2135.1,1965.7 2135.9,1975.3 2136.7,1966.1 2137.8,1969.5 2138.8,1966.9 2139.6,1970.9 2141.1,1977.9 2141.7,1965.7 2142.9,1966.8 2143.9,1962.2 2144.5,1953.1 2145.1,1961.1 2146.6,1962.3 2147.5,1957.9 2148.6,1959.4 2149.5,1957.9 2150.0,1952.7 2150.6,1961.5 2151.7,1956.5 2152.3,1970.3 2153.0,1956.1 2154.2,1959.0 2155.3,1955.1 2156.1,1951.1 2156.8,1956.1 2157.8,1952.4 2158.7,1956.6 2159.2,1951.2 2160.3,1954.4 2160.9,1943.3 2161.7,1956.7 2162.9,1953.5 2164.2,1960.6 2164.7,1974.2 2165.3,1958.1 2166.2,1961.2 2167.3,1954.3 2168.1,1959.1 2169.3,1957.7 2170.4,1961.1 2171.1,1957.2 2172.3,1959.2 2173.0,1948.4 2173.7,1961.8 2174.5,1957.0 2175.5,1965.7 2176.8,1974.0 2177.6,1961.1 2178.3,1965.2 2179.4,1957.9 2179.9,1966.8 2180.7,1963.1 2181.7,1968.2 2182.5,1974.6 2183.2,1963.8 2184.4,1970.7 2185.0,1954.0 2185.6,1972.1 2186.6,1967.5 2187.8,1974.2 2188.8,1981.3 2189.5,1974.5 2190.6,1973.6 2191.1,1974.9 2192.1,1973.2 2193.2,1972.5 2194.0,1975.2 2194.6,1968.2 2195.7,1960.5 2196.6,1967.9 2197.5,1965.0 2198.5,1965.9 2199.2,1971.3 2199.7,1964.4 2200.7,1965.8 2202.1,1957.1 2202.9,1967.0 2204.1,1964.5 2205.2,1977.8 2205.8,1964.5 2206.7,1966.9 2207.6,1964.5 2208.7,1957.2 2209.4,1966.8 2210.6,1963.6 2212.1,1971.0 2213.0,1965.4 2213.9,1962.2 2214.4,1967.8 2215.6,1965.7 2216.7,1967.7 2217.3,1971.9 2217.9,1964.0 2219.1,1965.3 2219.9,1956.5 2220.4,1964.1 2221.2,1962.8 2222.3,1962.3 2223.3,1971.7 2224.1,1958.7 2225.0,1963.0 2225.9,1948.3 2226.7,1963.9 2227.7,1959.2 2228.7,1965.5 2229.7,1974.0 2230.3,1964.8 2231.3,1968.6 2232.5,1963.7 2233.3,1969.0 2234.2,1968.0 2235.4,1974.0 2236.1,1967.4 2237.1,1968.0 2238.0,1962.5 2238.8,1965.5 2239.9,1962.7 2240.9,1962.4 2241.5,1971.6 2242.3,1956.3 2243.2,1962.9 2243.7,1944.4 2244.5,1961.7 2245.6,1954.3 2246.6,1965.4 2247.5,1956.2 2248.5,1959.5 2249.2,1954.6 2250.1,1960.5 2251.2,1958.7 2252.1,1970.2 2252.9,1957.9 2254.1,1961.9 2255.2,1957.1 2256.1,1951.1 2256.8,1959.0 2257.6,1957.1 2258.7,1962.0 2259.2,1956.0 2260.4,1945.3 2261.2,1960.4 2261.9,1958.7 2262.7,1963.5 2263.5,1960.7 2264.2,1975.9 2265.1,1963.0 2266.5,1958.3 2267.2,1965.9 2268.5,1963.6 2269.9,1970.9 2270.4,1962.9 2271.5,1965.9 2272.2,1958.3 2272.8,1966.9 2273.6,1964.1 2274.8,1968.1 2275.6,1973.3 2276.5,1966.0 2277.7,1963.3 2278.5,1971.1 2279.6,1968.2 2280.8,1971.8 2281.5,1977.3 2282.2,1967.5 2283.1,1971.9 2283.9,1967.0 2284.6,1960.0 2285.3,1971.1 2286.4,1968.3 2287.2,1975.4 2287.7,1968.2 2288.4,1969.7 2289.2,1968.1 2290.1,1962.7 2290.7,1969.9 2291.6,1969.0 2292.7,1969.9 2293.2,1978.1 2293.8,1967.2 2294.9,1968.9 2296.3,1957.1 2297.1,1966.5 2298.2,1963.2 2299.2,1968.6 2299.9,1961.6 2300.7,1963.9 2301.8,1954.7 2302.5,1962.8 2303.6,1961.1 2304.6,1961.4 2305.3,1970.1 2306.1,1959.3 2307.2,1962.0 2308.2,1950.6 2308.9,1959.8 2309.8,1957.4 2310.8,1961.5 2311.4,1957.0 2312.3,1959.7 2313.6,1953.0 2314.1,1962.2 2314.9,1958.3 2315.8,1964.2 2317.0,1972.3 2317.7,1961.1 2318.7,1967.9 2319.9,1958.3 2320.6,1967.9 2321.6,1964.1 2322.5,1973.4 2323.4,1961.8 2324.1,1966.5 2325.1,1954.4 2325.9,1966.7 2326.8,1962.0 2327.6,1967.0 2328.5,1963.8 2329.1,1973.3 2329.9,1965.2 2331.2,1962.8 2332.0,1968.6 2333.0,1966.2 2334.0,1967.6 2334.9,1978.2 2335.6,1964.3 2336.5,1968.3 2337.7,1952.3 2338.2,1966.5 2339.3,1963.0 2340.2,1964.1 2341.2,1969.9 2341.8,1964.2 2342.6,1966.5 2343.6,1965.2 2344.1,1960.9 2344.8,1967.0 2345.6,1965.4 2346.4,1967.2 2347.0,1976.4 2347.9,1961.9 2348.8,1962.3 2349.6,1948.7 2350.1,1959.5 2350.9,1953.7 2351.9,1955.9 2352.7,1958.9 2353.5,1953.6 2355.0,1945.2 2355.5,1956.8 2356.6,1956.4 2357.6,1959.7 2358.2,1972.7 2358.8,1958.0 2360.0,1961.0 2360.9,1959.6 2361.9,1952.4 2362.4,1961.2 2363.5,1958.6 2364.8,1965.4 2365.7,1958.2 2366.9,1963.1 2367.7,1950.0 2368.3,1965.7 2369.4,1962.3 2370.5,1975.4 2371.4,1965.5 2372.5,1969.2 2373.4,1964.9 2374.2,1968.4 2375.1,1967.1 2376.0,1974.3 2376.6,1965.7 2377.7,1966.7 2378.6,1954.1 2379.2,1967.5 2380.4,1965.3 2382.0,1976.4 2382.7,1966.7 2383.7,1970.8 2384.6,1962.9 2385.2,1970.3 2386.2,1968.1 2387.7,1977.3 2388.4,1965.6 2389.4,1966.9 2390.5,1963.1 2391.2,1953.1 2391.9,1964.7 2392.9,1962.5 2394.1,1969.2 2394.8,1963.6 2396.0,1964.6 2397.1,1959.3 2397.6,1964.9 2398.7,1961.8 2400.2,1975.9 2401.0,1960.0 2402.0,1962.5 2402.7,1948.2 2403.5,1959.8 2404.7,1954.9 2405.3,1959.8 2405.9,1954.0 2406.8,1955.0 2407.7,1952.9 2408.3,1944.5 2409.0,1956.5 2410.0,1954.3 2411.0,1970.7 2411.6,1954.2 2412.8,1961.8 2413.9,1953.9 2414.8,1946.4 2415.7,1960.3 2416.5,1958.6 2417.8,1968.0 2418.4,1959.9 2419.2,1960.7 2420.5,1953.3 2421.1,1962.1 2422.2,1953.7 2423.0,1963.5 2424.0,1974.4 2424.0,1974.6"/>
<text class="lb" x="1334.1" y="2232.0" text-anchor="middle">time [s]</text>
<text class="lb" x="1333.9" y="2308.5" text-anchor="middle">(c)</text>
</g>
<g class="tex" transform="translate(82.9,399.0) rotate(-90)">
<text transform="translate(-1.98,-0.23) scale(1.011,1)" font-size="63.2" font-style="italic">ω</text>
<text transform="translate(10.50,0.90) scale(0.896,1)" font-size="67.3">ˆ</text>
<text transform="translate(41.10,9.84) scale(1.136,1)" font-size="45.7">b</text>
<text transform="translate(97.23,6.22) scale(0.491,1)" font-size="80.6">[</text>
<text transform="translate(111.66,0.00) scale(1.162,1)" font-size="61.8">r</text>
<text transform="translate(137.89,-0.14) scale(1.199,1)" font-size="61.8">p</text>
<text transform="translate(174.70,0.00) scale(1.127,1)" font-size="62.1">m</text>
<text transform="translate(229.58,6.22) scale(0.540,1)" font-size="80.6">]</text>
</g>
<g class="tex" transform="translate(82.9,1178.0) rotate(-90)">
<text transform="translate(-1.13,0.00) scale(1.085,1)" font-size="69.9">T</text>
<text transform="translate(12.51,-17.86) scale(0.918,1)" font-size="64.7">ˆ</text>
<text transform="translate(48.40,9.74) scale(1.121,1)" font-size="45.5">b</text>
<text transform="translate(102.87,6.03) scale(0.503,1)" font-size="80.5">[</text>
<text transform="translate(117.05,0.00) scale(0.975,1)" font-size="69.9">N</text>
<text transform="translate(167.91,0.00) scale(1.136,1)" font-size="61.3">m</text>
<text transform="translate(222.66,6.03) scale(0.547,1)" font-size="80.5">]</text>
</g>
<text class="lb" transform="translate(127,1841) rotate(-90)" text-anchor="middle">SE [MPa]</text>
</svg>
</body></html>
